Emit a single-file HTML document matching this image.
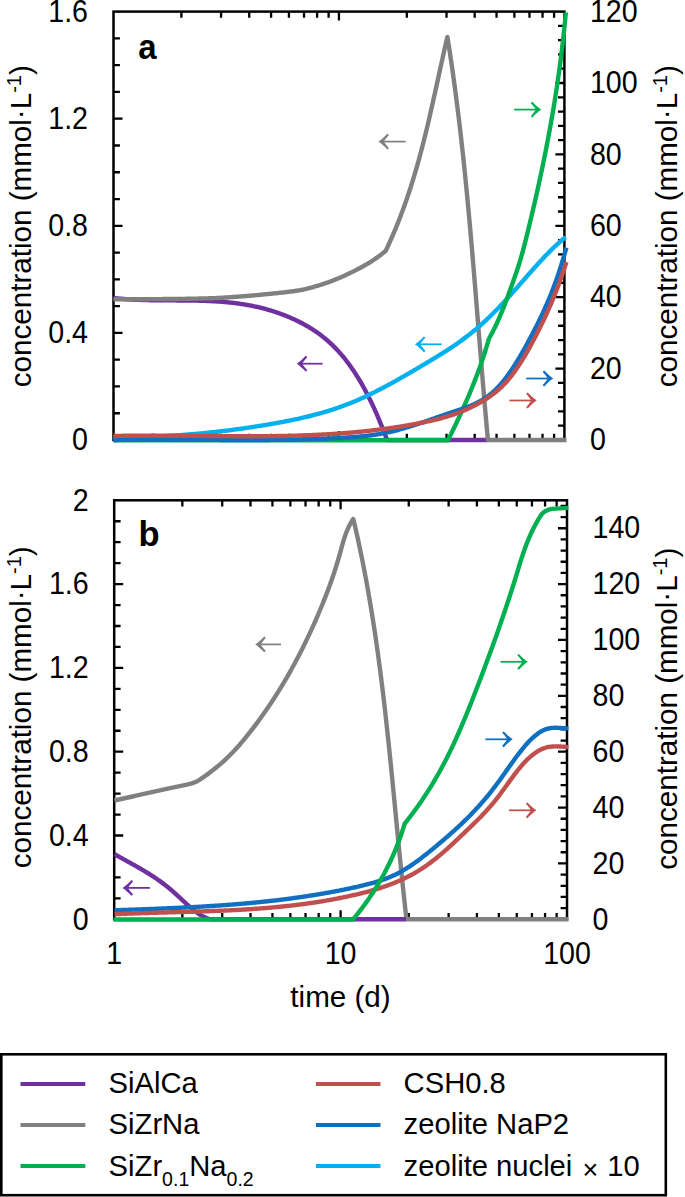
<!DOCTYPE html>
<html><head><meta charset="utf-8"><style>
html,body{margin:0;padding:0;background:#fff;overflow:hidden;}
svg{display:block;}
text{font-family:"Liberation Sans",sans-serif;fill:#000;}
</style></head><body>
<svg width="685" height="1197" viewBox="0 0 685 1197">
<rect x="113.5" y="11.6" width="450.9" height="428.4" fill="none" stroke="#000" stroke-width="2.5"/>
<path d="M181.37 440v-6.2M181.37 11.6v6.2M221.07 440v-6.2M221.07 11.6v6.2M249.23 440v-6.2M249.23 11.6v6.2M271.08 440v-6.2M271.08 11.6v6.2M288.93 440v-6.2M288.93 11.6v6.2M304.03 440v-6.2M304.03 11.6v6.2M317.1 440v-6.2M317.1 11.6v6.2M328.63 440v-6.2M328.63 11.6v6.2M338.95 440v-9.0M338.95 11.6v9.0M406.82 440v-6.2M406.82 11.6v6.2M446.52 440v-6.2M446.52 11.6v6.2M474.68 440v-6.2M474.68 11.6v6.2M496.53 440v-6.2M496.53 11.6v6.2M514.38 440v-6.2M514.38 11.6v6.2M529.48 440v-6.2M529.48 11.6v6.2M542.55 440v-6.2M542.55 11.6v6.2M554.08 440v-6.2M554.08 11.6v6.2M113.5 413.23h6.4M113.5 386.45h6.4M113.5 359.68h6.4M113.5 332.9h9.0M113.5 306.12h6.4M113.5 279.35h6.4M113.5 252.58h6.4M113.5 225.8h9.0M113.5 199.03h6.4M113.5 172.25h6.4M113.5 145.48h6.4M113.5 118.7h9.0M113.5 91.93h6.4M113.5 65.15h6.4M113.5 38.38h6.4M564.4 425.72h-6.4M564.4 411.44h-6.4M564.4 397.16h-6.4M564.4 382.88h-6.4M564.4 368.6h-9.0M564.4 354.32h-6.4M564.4 340.04h-6.4M564.4 325.76h-6.4M564.4 311.48h-6.4M564.4 297.2h-9.0M564.4 282.92h-6.4M564.4 268.64h-6.4M564.4 254.36h-6.4M564.4 240.08h-6.4M564.4 225.8h-9.0M564.4 211.52h-6.4M564.4 197.24h-6.4M564.4 182.96h-6.4M564.4 168.68h-6.4M564.4 154.4h-9.0M564.4 140.12h-6.4M564.4 125.84h-6.4M564.4 111.56h-6.4M564.4 97.28h-6.4M564.4 83h-9.0M564.4 68.72h-6.4M564.4 54.44h-6.4M564.4 40.16h-6.4M564.4 25.88h-6.4" stroke="#000" stroke-width="2.3" fill="none"/>
<rect x="114.2" y="500.3" width="452.8" height="419" fill="none" stroke="#000" stroke-width="2.5"/>
<path d="M182.35 919.3v-6.2M182.35 500.3v6.2M222.22 919.3v-6.2M222.22 500.3v6.2M250.51 919.3v-6.2M250.51 500.3v6.2M272.45 919.3v-6.2M272.45 500.3v6.2M290.37 919.3v-6.2M290.37 500.3v6.2M305.53 919.3v-6.2M305.53 500.3v6.2M318.66 919.3v-6.2M318.66 500.3v6.2M330.24 919.3v-6.2M330.24 500.3v6.2M340.6 919.3v-9.0M340.6 500.3v9.0M408.75 919.3v-6.2M408.75 500.3v6.2M448.62 919.3v-6.2M448.62 500.3v6.2M476.91 919.3v-6.2M476.91 500.3v6.2M498.85 919.3v-6.2M498.85 500.3v6.2M516.77 919.3v-6.2M516.77 500.3v6.2M531.93 919.3v-6.2M531.93 500.3v6.2M545.06 919.3v-6.2M545.06 500.3v6.2M556.64 919.3v-6.2M556.64 500.3v6.2M114.2 898.35h6.4M114.2 877.4h6.4M114.2 856.45h6.4M114.2 835.5h9.0M114.2 814.55h6.4M114.2 793.6h6.4M114.2 772.65h6.4M114.2 751.7h9.0M114.2 730.75h6.4M114.2 709.8h6.4M114.2 688.85h6.4M114.2 667.9h9.0M114.2 646.95h6.4M114.2 626h6.4M114.2 605.05h6.4M114.2 584.1h9.0M114.2 563.15h6.4M114.2 542.2h6.4M114.2 521.25h6.4M567 908.13h-6.4M567 896.95h-6.4M567 885.78h-6.4M567 874.61h-6.4M567 863.43h-9.0M567 852.26h-6.4M567 841.09h-6.4M567 829.91h-6.4M567 818.74h-6.4M567 807.57h-9.0M567 796.39h-6.4M567 785.22h-6.4M567 774.05h-6.4M567 762.87h-6.4M567 751.7h-9.0M567 740.53h-6.4M567 729.35h-6.4M567 718.18h-6.4M567 707.01h-6.4M567 695.83h-9.0M567 684.66h-6.4M567 673.49h-6.4M567 662.31h-6.4M567 651.14h-6.4M567 639.97h-9.0M567 628.79h-6.4M567 617.62h-6.4M567 606.45h-6.4M567 595.27h-6.4M567 584.1h-9.0M567 572.93h-6.4M567 561.75h-6.4M567 550.58h-6.4M567 539.41h-6.4M567 528.23h-9.0M567 517.06h-6.4M567 505.89h-6.4" stroke="#000" stroke-width="2.3" fill="none"/>
<path d="M113.50 297.99 L114.51 298.10 L115.51 298.21 L116.52 298.32 L117.52 298.42 L118.53 298.52 L119.53 298.61 L120.54 298.71 L121.54 298.80 L122.55 298.88 L123.56 298.96 L124.56 299.04 L125.57 299.12 L126.57 299.19 L127.58 299.26 L128.58 299.33 L129.59 299.39 L130.59 299.46 L131.60 299.52 L132.60 299.57 L133.61 299.63 L134.62 299.68 L135.62 299.73 L136.63 299.77 L137.63 299.82 L138.64 299.86 L139.64 299.90 L140.65 299.94 L141.65 299.97 L142.66 300.01 L143.67 300.04 L144.67 300.07 L145.68 300.10 L146.68 300.12 L147.69 300.15 L148.69 300.17 L149.70 300.19 L150.70 300.21 L151.71 300.23 L152.72 300.25 L153.72 300.27 L154.73 300.28 L155.73 300.29 L156.74 300.31 L157.74 300.32 L158.75 300.33 L159.75 300.34 L160.76 300.35 L161.76 300.36 L162.77 300.36 L163.78 300.37 L164.78 300.38 L165.79 300.38 L166.79 300.39 L167.80 300.39 L168.80 300.40 L169.81 300.40 L170.81 300.41 L171.82 300.41 L172.83 300.41 L173.83 300.42 L174.84 300.42 L175.84 300.42 L176.85 300.43 L177.85 300.43 L178.86 300.44 L179.86 300.44 L180.87 300.45 L181.88 300.45 L182.88 300.46 L183.89 300.47 L184.89 300.48 L185.90 300.48 L186.90 300.49 L187.91 300.50 L188.91 300.51 L189.92 300.53 L190.92 300.54 L191.93 300.55 L192.94 300.57 L193.94 300.59 L194.95 300.61 L195.95 300.63 L196.96 300.65 L197.96 300.67 L198.97 300.69 L199.97 300.72 L200.98 300.75 L201.99 300.78 L202.99 300.81 L204.00 300.84 L205.00 300.87 L206.01 300.91 L207.01 300.95 L208.02 300.99 L209.02 301.04 L210.03 301.08 L211.03 301.13 L212.04 301.18 L213.05 301.23 L214.05 301.29 L215.06 301.35 L216.06 301.41 L217.07 301.47 L218.07 301.54 L219.08 301.61 L220.08 301.68 L221.09 301.75 L222.10 301.83 L223.10 301.91 L224.11 302.00 L225.11 302.08 L226.12 302.17 L227.12 302.27 L228.13 302.37 L229.13 302.47 L230.14 302.57 L231.15 302.68 L232.15 302.79 L233.16 302.91 L234.16 303.03 L235.17 303.15 L236.17 303.28 L237.18 303.41 L238.18 303.54 L239.19 303.68 L240.19 303.83 L241.20 303.98 L242.21 304.13 L243.21 304.28 L244.22 304.45 L245.22 304.61 L246.23 304.78 L247.23 304.96 L248.24 305.14 L249.24 305.32 L250.25 305.51 L251.26 305.70 L252.26 305.90 L253.27 306.11 L254.27 306.31 L255.28 306.53 L256.28 306.75 L257.29 306.97 L258.29 307.20 L259.30 307.44 L260.31 307.68 L261.31 307.93 L262.32 308.18 L263.32 308.43 L264.33 308.70 L265.33 308.97 L266.34 309.24 L267.34 309.52 L268.35 309.81 L269.35 310.10 L270.36 310.40 L271.37 310.71 L272.37 311.02 L273.38 311.34 L274.38 311.66 L275.39 311.99 L276.39 312.33 L277.40 312.67 L278.40 313.02 L279.41 313.38 L280.42 313.74 L281.42 314.11 L282.43 314.49 L283.43 314.87 L284.44 315.26 L285.44 315.66 L286.45 316.07 L287.45 316.48 L288.46 316.90 L289.47 317.32 L290.47 317.76 L291.48 318.20 L292.48 318.65 L293.49 319.11 L294.49 319.57 L295.50 320.04 L296.50 320.52 L297.51 321.01 L298.51 321.51 L299.52 322.01 L300.53 322.52 L301.53 323.04 L302.54 323.57 L303.54 324.11 L304.55 324.65 L305.55 325.21 L306.56 325.78 L307.56 326.35 L308.57 326.94 L309.58 327.54 L310.58 328.15 L311.59 328.78 L312.59 329.41 L313.60 330.06 L314.60 330.73 L315.61 331.40 L316.61 332.09 L317.62 332.80 L318.62 333.52 L319.63 334.25 L320.64 335.00 L321.64 335.77 L322.65 336.55 L323.65 337.35 L324.66 338.17 L325.66 339.00 L326.67 339.85 L327.67 340.72 L328.68 341.61 L329.69 342.52 L330.69 343.45 L331.70 344.40 L332.70 345.37 L333.71 346.36 L334.71 347.37 L335.72 348.40 L336.72 349.45 L337.73 350.53 L338.74 351.63 L339.74 352.75 L340.75 353.89 L341.75 355.06 L342.76 356.26 L343.76 357.48 L344.77 358.72 L345.77 359.99 L346.78 361.29 L347.78 362.61 L348.79 363.96 L349.80 365.34 L350.80 366.75 L351.81 368.18 L352.81 369.65 L353.82 371.14 L354.82 372.67 L355.83 374.22 L356.83 375.81 L357.84 377.42 L358.85 379.07 L359.85 380.75 L360.86 382.46 L361.86 384.21 L362.87 385.99 L363.87 387.81 L364.88 389.65 L365.88 391.54 L366.89 393.46 L367.90 395.41 L368.90 397.40 L369.91 399.43 L370.91 401.50 L371.92 403.60 L372.92 405.74 L373.93 407.92 L374.93 410.14 L375.94 412.40 L376.94 414.69 L377.95 417.03 L378.96 419.41 L379.96 421.83 L380.97 424.30 L381.97 426.80 L382.98 429.35 L383.98 431.94 L384.99 434.57 L385.99 437.25 L387.00 439.97 L387.00 440.00 L488.00 440.00" stroke="#7030a0" stroke-width="4.4" fill="none" stroke-linejoin="round" stroke-linecap="butt"/>
<path d="M113.50 299.30 L114.50 299.30 L115.51 299.30 L116.51 299.30 L117.52 299.30 L118.52 299.30 L119.52 299.30 L120.53 299.29 L121.53 299.29 L122.54 299.29 L123.54 299.29 L124.54 299.29 L125.55 299.28 L126.55 299.28 L127.56 299.28 L128.56 299.27 L129.56 299.27 L130.57 299.27 L131.57 299.26 L132.58 299.26 L133.58 299.26 L134.59 299.25 L135.59 299.25 L136.59 299.24 L137.60 299.24 L138.60 299.23 L139.61 299.23 L140.61 299.22 L141.61 299.22 L142.62 299.21 L143.62 299.20 L144.63 299.20 L145.63 299.19 L146.63 299.19 L147.64 299.18 L148.64 299.17 L149.65 299.17 L150.65 299.16 L151.65 299.15 L152.66 299.15 L153.66 299.14 L154.67 299.13 L155.67 299.12 L156.67 299.12 L157.68 299.11 L158.68 299.10 L159.69 299.09 L160.69 299.09 L161.69 299.08 L162.70 299.07 L163.70 299.06 L164.71 299.05 L165.71 299.05 L166.72 299.04 L167.72 299.03 L168.72 299.02 L169.73 299.01 L170.73 299.00 L171.74 299.00 L172.74 298.99 L173.74 298.98 L174.75 298.97 L175.75 298.96 L176.76 298.95 L177.76 298.93 L178.76 298.92 L179.77 298.91 L180.77 298.90 L181.78 298.88 L182.78 298.87 L183.78 298.85 L184.79 298.84 L185.79 298.82 L186.80 298.80 L187.80 298.79 L188.80 298.77 L189.81 298.75 L190.81 298.73 L191.82 298.71 L192.82 298.69 L193.82 298.67 L194.83 298.65 L195.83 298.63 L196.84 298.61 L197.84 298.58 L198.85 298.56 L199.85 298.54 L200.85 298.51 L201.86 298.49 L202.86 298.46 L203.87 298.44 L204.87 298.41 L205.87 298.38 L206.88 298.36 L207.88 298.33 L208.89 298.30 L209.89 298.27 L210.89 298.24 L211.90 298.21 L212.90 298.18 L213.91 298.14 L214.91 298.10 L215.91 298.06 L216.92 298.02 L217.92 297.97 L218.93 297.92 L219.93 297.87 L220.93 297.81 L221.94 297.75 L222.94 297.70 L223.95 297.63 L224.95 297.57 L225.95 297.50 L226.96 297.44 L227.96 297.37 L228.97 297.30 L229.97 297.23 L230.97 297.16 L231.98 297.09 L232.98 297.01 L233.99 296.94 L234.99 296.87 L236.00 296.79 L237.00 296.72 L238.00 296.65 L239.01 296.57 L240.01 296.50 L241.02 296.43 L242.02 296.35 L243.02 296.27 L244.03 296.20 L245.03 296.12 L246.04 296.04 L247.04 295.96 L248.04 295.88 L249.05 295.79 L250.05 295.71 L251.06 295.62 L252.06 295.53 L253.06 295.45 L254.07 295.36 L255.07 295.27 L256.08 295.17 L257.08 295.08 L258.08 294.99 L259.09 294.90 L260.09 294.80 L261.10 294.70 L262.10 294.61 L263.10 294.51 L264.11 294.41 L265.11 294.31 L266.12 294.21 L267.12 294.11 L268.13 294.01 L269.13 293.91 L270.13 293.80 L271.14 293.70 L272.14 293.60 L273.15 293.50 L274.15 293.40 L275.15 293.30 L276.16 293.20 L277.16 293.10 L278.17 292.99 L279.17 292.89 L280.17 292.78 L281.18 292.68 L282.18 292.57 L283.19 292.46 L284.19 292.35 L285.19 292.24 L286.20 292.12 L287.20 292.00 L288.21 291.88 L289.21 291.76 L290.21 291.63 L291.22 291.50 L292.22 291.37 L293.23 291.23 L294.23 291.09 L295.23 290.95 L296.24 290.80 L297.24 290.64 L298.25 290.49 L299.25 290.32 L300.25 290.16 L301.26 289.98 L302.26 289.78 L303.27 289.58 L304.27 289.36 L305.28 289.13 L306.28 288.90 L307.28 288.65 L308.29 288.39 L309.29 288.13 L310.30 287.86 L311.30 287.58 L312.30 287.30 L313.31 287.02 L314.31 286.73 L315.32 286.44 L316.32 286.14 L317.32 285.85 L318.33 285.56 L319.33 285.25 L320.34 284.94 L321.34 284.62 L322.34 284.30 L323.35 283.96 L324.35 283.63 L325.36 283.28 L326.36 282.93 L327.36 282.57 L328.37 282.21 L329.37 281.84 L330.38 281.47 L331.38 281.09 L332.38 280.71 L333.39 280.33 L334.39 279.94 L335.40 279.54 L336.40 279.14 L337.41 278.73 L338.41 278.32 L339.41 277.90 L340.42 277.47 L341.42 277.03 L342.43 276.59 L343.43 276.14 L344.43 275.69 L345.44 275.23 L346.44 274.76 L347.45 274.29 L348.45 273.81 L349.45 273.33 L350.46 272.85 L351.46 272.36 L352.47 271.87 L353.47 271.37 L354.47 270.87 L355.48 270.36 L356.48 269.85 L357.49 269.33 L358.49 268.81 L359.49 268.28 L360.50 267.75 L361.50 267.20 L362.51 266.65 L363.51 266.10 L364.51 265.53 L365.52 264.95 L366.52 264.37 L367.53 263.77 L368.53 263.17 L369.54 262.55 L370.54 261.92 L371.54 261.28 L372.55 260.63 L373.55 259.96 L374.56 259.28 L375.56 258.58 L376.56 257.87 L377.57 257.15 L378.57 256.42 L379.58 255.68 L380.58 254.92 L381.58 254.16 L382.59 253.38 L383.59 252.60 L384.60 251.80 L385.60 251.00 L385.62 251.00 L386.10 250.00 L386.58 248.99 L387.05 247.99 L387.52 246.98 L387.98 245.98 L388.44 244.97 L388.90 243.97 L389.36 242.96 L389.82 241.96 L390.27 240.95 L390.71 239.95 L391.16 238.94 L391.60 237.94 L392.04 236.93 L392.48 235.93 L392.91 234.92 L393.35 233.92 L393.77 232.92 L394.20 231.91 L394.62 230.91 L395.04 229.90 L395.46 228.90 L395.88 227.89 L396.29 226.89 L396.70 225.88 L397.11 224.88 L397.51 223.87 L397.91 222.87 L398.31 221.86 L398.71 220.86 L399.11 219.85 L399.50 218.85 L399.89 217.85 L400.28 216.84 L400.66 215.84 L401.04 214.83 L401.42 213.83 L401.80 212.82 L402.18 211.82 L402.55 210.81 L402.92 209.81 L403.29 208.80 L403.66 207.80 L404.02 206.79 L404.38 205.79 L404.74 204.78 L405.10 203.78 L405.45 202.77 L405.81 201.77 L406.16 200.77 L406.50 199.76 L406.85 198.76 L407.19 197.75 L407.54 196.75 L407.88 195.74 L408.21 194.74 L408.55 193.73 L408.88 192.73 L409.22 191.72 L409.55 190.72 L409.87 189.71 L410.20 188.71 L410.52 187.70 L410.85 186.70 L411.17 185.69 L411.48 184.69 L411.80 183.69 L412.12 182.68 L412.43 181.68 L412.74 180.67 L413.05 179.67 L413.36 178.66 L413.66 177.66 L413.97 176.65 L414.27 175.65 L414.57 174.64 L414.87 173.64 L415.16 172.63 L415.46 171.63 L415.75 170.62 L416.05 169.62 L416.34 168.62 L416.63 167.61 L416.91 166.61 L417.20 165.60 L417.48 164.60 L417.77 163.59 L418.05 162.59 L418.33 161.58 L418.61 160.58 L418.88 159.57 L419.16 158.57 L419.43 157.56 L419.71 156.56 L419.98 155.55 L420.25 154.55 L420.52 153.54 L420.78 152.54 L421.05 151.54 L421.31 150.53 L421.58 149.53 L421.84 148.52 L422.10 147.52 L422.36 146.51 L422.62 145.51 L422.88 144.50 L423.13 143.50 L423.39 142.49 L423.64 141.49 L423.90 140.48 L424.15 139.48 L424.40 138.47 L424.65 137.47 L424.90 136.46 L425.15 135.46 L425.39 134.46 L425.64 133.45 L425.88 132.45 L426.13 131.44 L426.37 130.44 L426.61 129.43 L426.85 128.43 L427.09 127.42 L427.33 126.42 L427.57 125.41 L427.81 124.41 L428.05 123.40 L428.28 122.40 L428.52 121.39 L428.75 120.39 L428.99 119.38 L429.22 118.38 L429.45 117.38 L429.69 116.37 L429.92 115.37 L430.15 114.36 L430.38 113.36 L430.61 112.35 L430.84 111.35 L431.06 110.34 L431.29 109.34 L431.52 108.33 L431.74 107.33 L431.97 106.32 L432.20 105.32 L432.42 104.31 L432.65 103.31 L432.87 102.31 L433.09 101.30 L433.32 100.30 L433.54 99.29 L433.76 98.29 L433.99 97.28 L434.21 96.28 L434.43 95.27 L434.65 94.27 L434.87 93.26 L435.09 92.26 L435.32 91.25 L435.54 90.25 L435.76 89.24 L435.98 88.24 L436.20 87.23 L436.42 86.23 L436.64 85.23 L436.86 84.22 L437.08 83.22 L437.29 82.21 L437.51 81.21 L437.73 80.20 L437.95 79.20 L438.17 78.19 L438.39 77.19 L438.61 76.18 L438.83 75.18 L439.05 74.17 L439.27 73.17 L439.49 72.16 L439.71 71.16 L439.93 70.15 L440.15 69.15 L440.37 68.15 L440.59 67.14 L440.81 66.14 L441.03 65.13 L441.25 64.13 L441.47 63.12 L441.70 62.12 L441.92 61.11 L442.14 60.11 L442.36 59.10 L442.59 58.10 L442.81 57.09 L443.03 56.09 L443.26 55.08 L443.48 54.08 L443.71 53.08 L443.93 52.07 L444.16 51.07 L444.39 50.06 L444.61 49.06 L444.84 48.05 L445.07 47.05 L445.30 46.04 L445.53 45.04 L445.76 44.03 L445.99 43.03 L446.22 42.02 L446.45 41.02 L446.68 40.01 L446.92 39.01 L447.15 38.00 L447.38 37.00 L447.43 37.00 L447.59 38.00 L447.75 39.00 L447.91 40.01 L448.07 41.01 L448.23 42.01 L448.39 43.01 L448.54 44.02 L448.70 45.02 L448.85 46.02 L449.01 47.02 L449.16 48.03 L449.32 49.03 L449.47 50.03 L449.63 51.03 L449.78 52.04 L449.93 53.04 L450.08 54.04 L450.23 55.04 L450.38 56.05 L450.53 57.05 L450.68 58.05 L450.83 59.05 L450.98 60.06 L451.13 61.06 L451.28 62.06 L451.42 63.06 L451.57 64.07 L451.72 65.07 L451.86 66.07 L452.01 67.07 L452.15 68.08 L452.29 69.08 L452.44 70.08 L452.58 71.08 L452.72 72.09 L452.86 73.09 L453.01 74.09 L453.15 75.09 L453.29 76.10 L453.43 77.10 L453.57 78.10 L453.71 79.10 L453.84 80.11 L453.98 81.11 L454.12 82.11 L454.26 83.11 L454.39 84.12 L454.53 85.12 L454.67 86.12 L454.80 87.12 L454.94 88.13 L455.07 89.13 L455.20 90.13 L455.34 91.13 L455.47 92.14 L455.60 93.14 L455.74 94.14 L455.87 95.14 L456.00 96.15 L456.13 97.15 L456.26 98.15 L456.39 99.15 L456.52 100.16 L456.65 101.16 L456.78 102.16 L456.90 103.16 L457.03 104.17 L457.16 105.17 L457.29 106.17 L457.41 107.17 L457.54 108.18 L457.66 109.18 L457.79 110.18 L457.91 111.18 L458.04 112.19 L458.16 113.19 L458.28 114.19 L458.41 115.19 L458.53 116.20 L458.65 117.20 L458.77 118.20 L458.90 119.20 L459.02 120.21 L459.14 121.21 L459.26 122.21 L459.38 123.21 L459.50 124.22 L459.62 125.22 L459.74 126.22 L459.85 127.22 L459.97 128.23 L460.09 129.23 L460.21 130.23 L460.32 131.23 L460.44 132.24 L460.56 133.24 L460.67 134.24 L460.79 135.24 L460.90 136.25 L461.02 137.25 L461.13 138.25 L461.24 139.25 L461.36 140.26 L461.47 141.26 L461.58 142.26 L461.70 143.26 L461.81 144.27 L461.92 145.27 L462.03 146.27 L462.14 147.27 L462.25 148.28 L462.36 149.28 L462.47 150.28 L462.58 151.28 L462.69 152.29 L462.80 153.29 L462.91 154.29 L463.02 155.29 L463.13 156.30 L463.23 157.30 L463.34 158.30 L463.45 159.30 L463.55 160.31 L463.66 161.31 L463.77 162.31 L463.87 163.31 L463.98 164.32 L464.08 165.32 L464.19 166.32 L464.29 167.32 L464.40 168.33 L464.50 169.33 L464.60 170.33 L464.71 171.33 L464.81 172.34 L464.91 173.34 L465.01 174.34 L465.12 175.34 L465.22 176.35 L465.32 177.35 L465.42 178.35 L465.52 179.35 L465.62 180.36 L465.72 181.36 L465.82 182.36 L465.92 183.36 L466.02 184.37 L466.12 185.37 L466.22 186.37 L466.32 187.37 L466.42 188.38 L466.52 189.38 L466.61 190.38 L466.71 191.38 L466.81 192.39 L466.91 193.39 L467.00 194.39 L467.10 195.39 L467.20 196.40 L467.29 197.40 L467.39 198.40 L467.48 199.40 L467.58 200.41 L467.67 201.41 L467.77 202.41 L467.86 203.41 L467.96 204.42 L468.05 205.42 L468.15 206.42 L468.24 207.42 L468.33 208.43 L468.43 209.43 L468.52 210.43 L468.61 211.43 L468.71 212.44 L468.80 213.44 L468.89 214.44 L468.98 215.44 L469.07 216.45 L469.17 217.45 L469.26 218.45 L469.35 219.45 L469.44 220.46 L469.53 221.46 L469.62 222.46 L469.71 223.46 L469.80 224.47 L469.89 225.47 L469.98 226.47 L470.07 227.47 L470.16 228.48 L470.25 229.48 L470.34 230.48 L470.43 231.48 L470.52 232.49 L470.61 233.49 L470.69 234.49 L470.78 235.49 L470.87 236.50 L470.96 237.50 L471.05 238.50 L471.13 239.50 L471.22 240.50 L471.31 241.51 L471.39 242.51 L471.48 243.51 L471.57 244.51 L471.65 245.52 L471.74 246.52 L471.83 247.52 L471.91 248.52 L472.00 249.53 L472.08 250.53 L472.17 251.53 L472.26 252.53 L472.34 253.54 L472.43 254.54 L472.51 255.54 L472.60 256.54 L472.68 257.55 L472.77 258.55 L472.85 259.55 L472.93 260.55 L473.02 261.56 L473.10 262.56 L473.19 263.56 L473.27 264.56 L473.36 265.57 L473.44 266.57 L473.52 267.57 L473.61 268.57 L473.69 269.58 L473.77 270.58 L473.86 271.58 L473.94 272.58 L474.02 273.59 L474.11 274.59 L474.19 275.59 L474.27 276.59 L474.35 277.60 L474.44 278.60 L474.52 279.60 L474.60 280.60 L474.68 281.61 L474.76 282.61 L474.85 283.61 L474.93 284.61 L475.01 285.62 L475.09 286.62 L475.17 287.62 L475.26 288.62 L475.34 289.63 L475.42 290.63 L475.50 291.63 L475.58 292.63 L475.66 293.64 L475.75 294.64 L475.83 295.64 L475.91 296.64 L475.99 297.65 L476.07 298.65 L476.15 299.65 L476.23 300.65 L476.31 301.66 L476.39 302.66 L476.48 303.66 L476.56 304.66 L476.64 305.67 L476.72 306.67 L476.80 307.67 L476.88 308.67 L476.96 309.68 L477.04 310.68 L477.12 311.68 L477.20 312.68 L477.28 313.69 L477.36 314.69 L477.44 315.69 L477.52 316.69 L477.60 317.70 L477.69 318.70 L477.77 319.70 L477.85 320.70 L477.93 321.71 L478.01 322.71 L478.09 323.71 L478.17 324.71 L478.25 325.72 L478.33 326.72 L478.41 327.72 L478.49 328.72 L478.57 329.73 L478.65 330.73 L478.73 331.73 L478.81 332.73 L478.89 333.74 L478.97 334.74 L479.05 335.74 L479.13 336.74 L479.22 337.75 L479.30 338.75 L479.38 339.75 L479.46 340.75 L479.54 341.76 L479.62 342.76 L479.70 343.76 L479.78 344.76 L479.86 345.77 L479.94 346.77 L480.02 347.77 L480.11 348.77 L480.19 349.78 L480.27 350.78 L480.35 351.78 L480.43 352.78 L480.51 353.79 L480.59 354.79 L480.67 355.79 L480.76 356.79 L480.84 357.80 L480.92 358.80 L481.00 359.80 L481.08 360.80 L481.16 361.81 L481.25 362.81 L481.33 363.81 L481.41 364.81 L481.49 365.82 L481.57 366.82 L481.66 367.82 L481.74 368.82 L481.82 369.83 L481.90 370.83 L481.99 371.83 L482.07 372.83 L482.15 373.84 L482.24 374.84 L482.32 375.84 L482.40 376.84 L482.49 377.85 L482.57 378.85 L482.65 379.85 L482.74 380.85 L482.82 381.86 L482.90 382.86 L482.99 383.86 L483.07 384.86 L483.16 385.87 L483.24 386.87 L483.32 387.87 L483.41 388.87 L483.49 389.88 L483.58 390.88 L483.66 391.88 L483.75 392.88 L483.83 393.89 L483.92 394.89 L484.01 395.89 L484.09 396.89 L484.18 397.90 L484.26 398.90 L484.35 399.90 L484.43 400.90 L484.52 401.91 L484.61 402.91 L484.69 403.91 L484.78 404.91 L484.87 405.92 L484.96 406.92 L485.04 407.92 L485.13 408.92 L485.22 409.93 L485.31 410.93 L485.39 411.93 L485.48 412.93 L485.57 413.94 L485.66 414.94 L485.75 415.94 L485.84 416.94 L485.93 417.95 L486.01 418.95 L486.10 419.95 L486.19 420.95 L486.28 421.96 L486.37 422.96 L486.46 423.96 L486.55 424.96 L486.64 425.97 L486.74 426.97 L486.83 427.97 L486.92 428.97 L487.01 429.98 L487.10 430.98 L487.19 431.98 L487.28 432.98 L487.38 433.99 L487.47 434.99 L487.56 435.99 L487.65 436.99 L487.75 438.00 L487.84 439.00 L487.93 440.00 L488.00 440.00 L566.50 440.00" stroke="#808080" stroke-width="4.4" fill="none" stroke-linejoin="round" stroke-linecap="butt"/>
<path d="M113.50 437.50 L114.50 437.50 L115.50 437.50 L116.51 437.49 L117.51 437.49 L118.51 437.49 L119.51 437.48 L120.52 437.48 L121.52 437.47 L122.52 437.46 L123.52 437.45 L124.53 437.44 L125.53 437.43 L126.53 437.41 L127.53 437.40 L128.54 437.38 L129.54 437.37 L130.54 437.35 L131.54 437.33 L132.55 437.31 L133.55 437.29 L134.55 437.27 L135.55 437.25 L136.56 437.22 L137.56 437.20 L138.56 437.17 L139.56 437.15 L140.57 437.12 L141.57 437.09 L142.57 437.06 L143.57 437.03 L144.58 436.99 L145.58 436.96 L146.58 436.92 L147.58 436.89 L148.59 436.85 L149.59 436.81 L150.59 436.77 L151.59 436.73 L152.60 436.69 L153.60 436.65 L154.60 436.61 L155.60 436.56 L156.60 436.52 L157.61 436.47 L158.61 436.42 L159.61 436.37 L160.61 436.32 L161.62 436.27 L162.62 436.22 L163.62 436.17 L164.62 436.11 L165.63 436.06 L166.63 436.00 L167.63 435.94 L168.63 435.88 L169.64 435.82 L170.64 435.76 L171.64 435.70 L172.64 435.64 L173.65 435.57 L174.65 435.51 L175.65 435.44 L176.65 435.37 L177.66 435.30 L178.66 435.23 L179.66 435.16 L180.66 435.09 L181.67 435.02 L182.67 434.94 L183.67 434.87 L184.67 434.79 L185.68 434.71 L186.68 434.63 L187.68 434.55 L188.68 434.47 L189.69 434.39 L190.69 434.31 L191.69 434.22 L192.69 434.14 L193.70 434.05 L194.70 433.96 L195.70 433.88 L196.70 433.79 L197.70 433.69 L198.71 433.60 L199.71 433.51 L200.71 433.42 L201.71 433.32 L202.72 433.22 L203.72 433.13 L204.72 433.03 L205.72 432.93 L206.73 432.83 L207.73 432.72 L208.73 432.62 L209.73 432.52 L210.74 432.41 L211.74 432.30 L212.74 432.20 L213.74 432.09 L214.75 431.98 L215.75 431.87 L216.75 431.76 L217.75 431.64 L218.76 431.53 L219.76 431.41 L220.76 431.30 L221.76 431.18 L222.77 431.06 L223.77 430.94 L224.77 430.82 L225.77 430.70 L226.78 430.57 L227.78 430.45 L228.78 430.32 L229.78 430.20 L230.79 430.07 L231.79 429.94 L232.79 429.81 L233.79 429.68 L234.80 429.55 L235.80 429.41 L236.80 429.28 L237.80 429.14 L238.80 429.01 L239.81 428.87 L240.81 428.73 L241.81 428.59 L242.81 428.45 L243.82 428.31 L244.82 428.16 L245.82 428.02 L246.82 427.87 L247.83 427.72 L248.83 427.58 L249.83 427.43 L250.83 427.28 L251.84 427.13 L252.84 426.97 L253.84 426.82 L254.84 426.66 L255.85 426.51 L256.85 426.35 L257.85 426.19 L258.85 426.03 L259.86 425.87 L260.86 425.71 L261.86 425.55 L262.86 425.38 L263.87 425.22 L264.87 425.05 L265.87 424.89 L266.87 424.72 L267.88 424.55 L268.88 424.38 L269.88 424.21 L270.88 424.03 L271.89 423.86 L272.89 423.68 L273.89 423.51 L274.89 423.33 L275.90 423.15 L276.90 422.97 L277.90 422.79 L278.90 422.61 L279.90 422.42 L280.91 422.24 L281.91 422.05 L282.91 421.86 L283.91 421.67 L284.92 421.48 L285.92 421.28 L286.92 421.09 L287.92 420.89 L288.93 420.69 L289.93 420.49 L290.93 420.29 L291.93 420.08 L292.94 419.88 L293.94 419.67 L294.94 419.46 L295.94 419.24 L296.95 419.03 L297.95 418.81 L298.95 418.59 L299.95 418.37 L300.96 418.14 L301.96 417.91 L302.96 417.68 L303.96 417.45 L304.97 417.22 L305.97 416.98 L306.97 416.74 L307.97 416.50 L308.98 416.25 L309.98 416.00 L310.98 415.75 L311.98 415.50 L312.99 415.24 L313.99 414.98 L314.99 414.72 L315.99 414.45 L317.00 414.18 L318.00 413.91 L319.00 413.63 L320.00 413.35 L321.00 413.07 L322.01 412.79 L323.01 412.50 L324.01 412.20 L325.01 411.91 L326.02 411.61 L327.02 411.31 L328.02 411.00 L329.02 410.69 L330.03 410.37 L331.03 410.06 L332.03 409.73 L333.03 409.41 L334.04 409.08 L335.04 408.75 L336.04 408.41 L337.04 408.07 L338.05 407.72 L339.05 407.37 L340.05 407.02 L341.05 406.66 L342.06 406.30 L343.06 405.93 L344.06 405.56 L345.06 405.18 L346.07 404.80 L347.07 404.42 L348.07 404.03 L349.07 403.64 L350.08 403.24 L351.08 402.83 L352.08 402.43 L353.08 402.01 L354.09 401.60 L355.09 401.17 L356.09 400.75 L357.09 400.32 L358.10 399.88 L359.10 399.44 L360.10 399.00 L361.10 398.55 L362.10 398.10 L363.11 397.64 L364.11 397.18 L365.11 396.71 L366.11 396.24 L367.12 395.77 L368.12 395.29 L369.12 394.81 L370.12 394.33 L371.13 393.84 L372.13 393.35 L373.13 392.85 L374.13 392.35 L375.14 391.85 L376.14 391.34 L377.14 390.83 L378.14 390.32 L379.15 389.80 L380.15 389.29 L381.15 388.76 L382.15 388.24 L383.16 387.71 L384.16 387.18 L385.16 386.65 L386.16 386.11 L387.17 385.57 L388.17 385.03 L389.17 384.48 L390.17 383.94 L391.18 383.39 L392.18 382.84 L393.18 382.28 L394.18 381.73 L395.19 381.17 L396.19 380.61 L397.19 380.04 L398.19 379.48 L399.20 378.91 L400.20 378.34 L401.20 377.77 L402.20 377.20 L403.20 376.63 L404.21 376.05 L405.21 375.47 L406.21 374.89 L407.21 374.31 L408.22 373.73 L409.22 373.15 L410.22 372.56 L411.22 371.98 L412.23 371.39 L413.23 370.80 L414.23 370.21 L415.23 369.62 L416.24 369.03 L417.24 368.44 L418.24 367.85 L419.24 367.26 L420.25 366.66 L421.25 366.07 L422.25 365.47 L423.25 364.88 L424.26 364.28 L425.26 363.68 L426.26 363.09 L427.26 362.49 L428.27 361.89 L429.27 361.29 L430.27 360.69 L431.27 360.09 L432.28 359.49 L433.28 358.89 L434.28 358.28 L435.28 357.68 L436.29 357.07 L437.29 356.45 L438.29 355.84 L439.29 355.22 L440.30 354.60 L441.30 353.98 L442.30 353.36 L443.30 352.73 L444.30 352.09 L445.31 351.46 L446.31 350.82 L447.31 350.17 L448.31 349.52 L449.32 348.87 L450.32 348.21 L451.32 347.55 L452.32 346.88 L453.33 346.20 L454.33 345.52 L455.33 344.84 L456.33 344.15 L457.34 343.45 L458.34 342.75 L459.34 342.04 L460.34 341.32 L461.35 340.60 L462.35 339.87 L463.35 339.13 L464.35 338.38 L465.36 337.63 L466.36 336.87 L467.36 336.10 L468.36 335.33 L469.37 334.54 L470.37 333.75 L471.37 332.95 L472.37 332.14 L473.38 331.32 L474.38 330.49 L475.38 329.66 L476.38 328.81 L477.39 327.96 L478.39 327.09 L479.39 326.22 L480.39 325.33 L481.40 324.44 L482.40 323.54 L483.40 322.63 L484.40 321.71 L485.40 320.78 L486.41 319.84 L487.41 318.89 L488.41 317.94 L489.41 316.98 L490.42 316.01 L491.42 315.03 L492.42 314.04 L493.42 313.04 L494.43 312.04 L495.43 311.03 L496.43 310.01 L497.43 308.98 L498.44 307.95 L499.44 306.91 L500.44 305.86 L501.44 304.80 L502.45 303.74 L503.45 302.67 L504.45 301.59 L505.45 300.50 L506.46 299.41 L507.46 298.31 L508.46 297.21 L509.46 296.10 L510.47 294.99 L511.47 293.87 L512.47 292.75 L513.47 291.62 L514.48 290.49 L515.48 289.36 L516.48 288.22 L517.48 287.08 L518.49 285.94 L519.49 284.80 L520.49 283.65 L521.49 282.51 L522.50 281.36 L523.50 280.22 L524.50 279.07 L525.50 277.93 L526.50 276.79 L527.51 275.65 L528.51 274.51 L529.51 273.37 L530.51 272.23 L531.52 271.10 L532.52 269.97 L533.52 268.85 L534.52 267.73 L535.53 266.61 L536.53 265.50 L537.53 264.39 L538.53 263.29 L539.54 262.19 L540.54 261.11 L541.54 260.02 L542.54 258.95 L543.55 257.88 L544.55 256.82 L545.55 255.77 L546.55 254.73 L547.56 253.69 L548.56 252.67 L549.56 251.66 L550.56 250.65 L551.57 249.66 L552.57 248.68 L553.57 247.70 L554.57 246.74 L555.58 245.80 L556.58 244.86 L557.58 243.94 L558.58 243.03 L559.59 242.14 L560.59 241.25 L561.59 240.39 L562.59 239.54 L563.60 238.70 L564.60 237.88 L565.60 237.07" stroke="#05b0ee" stroke-width="4.4" fill="none" stroke-linejoin="round" stroke-linecap="butt"/>
<path d="M113.50 440.20 L448.00 440.20 L448.50 439.19 L449.00 438.17 L449.51 437.16 L450.01 436.14 L450.51 435.13 L451.01 434.12 L451.51 433.10 L452.01 432.09 L452.50 431.07 L453.00 430.06 L453.49 429.05 L453.98 428.03 L454.47 427.02 L454.96 426.00 L455.44 424.99 L455.93 423.98 L456.41 422.96 L456.89 421.95 L457.37 420.93 L457.84 419.92 L458.32 418.91 L458.79 417.89 L459.27 416.88 L459.74 415.86 L460.20 414.85 L460.67 413.84 L461.14 412.82 L461.60 411.81 L462.06 410.79 L462.52 409.78 L462.97 408.77 L463.43 407.75 L463.88 406.74 L464.33 405.72 L464.78 404.71 L465.23 403.70 L465.68 402.68 L466.12 401.67 L466.56 400.65 L467.00 399.64 L467.44 398.63 L467.87 397.61 L468.30 396.60 L468.73 395.58 L469.16 394.57 L469.59 393.56 L470.01 392.54 L470.43 391.53 L470.85 390.51 L471.27 389.50 L471.69 388.49 L472.10 387.47 L472.51 386.46 L472.92 385.44 L473.32 384.43 L473.73 383.42 L474.13 382.40 L474.53 381.39 L474.92 380.37 L475.32 379.36 L475.71 378.35 L476.10 377.33 L476.48 376.32 L476.87 375.30 L477.25 374.29 L477.63 373.28 L478.00 372.26 L478.38 371.25 L478.75 370.23 L479.11 369.22 L479.48 368.21 L479.84 367.19 L480.20 366.18 L480.56 365.16 L480.92 364.15 L481.27 363.14 L481.62 362.12 L481.97 361.11 L482.31 360.09 L482.65 359.08 L482.99 358.07 L483.33 357.05 L483.66 356.04 L483.99 355.02 L484.32 354.01 L484.64 353.00 L484.96 351.98 L485.28 350.97 L485.60 349.95 L485.91 348.94 L486.22 347.93 L486.53 346.91 L486.83 345.90 L487.13 344.88 L487.43 343.87 L487.72 342.86 L488.02 341.84 L488.30 340.83 L488.59 339.81 L488.87 338.80 L488.90 338.80 L489.46 337.80 L490.02 336.79 L490.56 335.79 L491.11 334.78 L491.64 333.78 L492.17 332.77 L492.69 331.77 L493.20 330.77 L493.71 329.76 L494.21 328.76 L494.70 327.75 L495.19 326.75 L495.67 325.74 L496.15 324.74 L496.62 323.74 L497.09 322.73 L497.55 321.73 L498.00 320.72 L498.45 319.72 L498.90 318.71 L499.34 317.71 L499.77 316.71 L500.20 315.70 L500.63 314.70 L501.06 313.69 L501.47 312.69 L501.89 311.68 L502.30 310.68 L502.71 309.68 L503.11 308.67 L503.52 307.67 L503.91 306.66 L504.31 305.66 L504.70 304.65 L505.09 303.65 L505.48 302.64 L505.86 301.64 L506.24 300.64 L506.62 299.63 L507.00 298.63 L507.38 297.62 L507.75 296.62 L508.12 295.61 L508.49 294.61 L508.85 293.61 L509.22 292.60 L509.58 291.60 L509.94 290.59 L510.31 289.59 L510.66 288.58 L511.02 287.58 L511.38 286.58 L511.74 285.57 L512.09 284.57 L512.44 283.56 L512.80 282.56 L513.15 281.55 L513.50 280.55 L513.85 279.55 L514.21 278.54 L514.56 277.54 L514.91 276.53 L515.26 275.53 L515.60 274.52 L515.95 273.52 L516.29 272.52 L516.63 271.51 L516.97 270.51 L517.31 269.50 L517.64 268.50 L517.97 267.49 L518.30 266.49 L518.62 265.49 L518.94 264.48 L519.26 263.48 L519.57 262.47 L519.87 261.47 L520.18 260.46 L520.48 259.46 L520.77 258.46 L521.06 257.45 L521.35 256.45 L521.64 255.44 L521.92 254.44 L522.20 253.43 L522.48 252.43 L522.75 251.43 L523.02 250.42 L523.29 249.42 L523.56 248.41 L523.83 247.41 L524.09 246.40 L524.35 245.40 L524.61 244.40 L524.86 243.39 L525.12 242.39 L525.37 241.38 L525.63 240.38 L525.88 239.37 L526.13 238.37 L526.38 237.36 L526.62 236.36 L526.87 235.36 L527.12 234.35 L527.37 233.35 L527.61 232.34 L527.86 231.34 L528.10 230.33 L528.35 229.33 L528.59 228.33 L528.84 227.32 L529.08 226.32 L529.32 225.31 L529.56 224.31 L529.80 223.30 L530.05 222.30 L530.29 221.30 L530.53 220.29 L530.77 219.29 L531.00 218.28 L531.24 217.28 L531.48 216.27 L531.72 215.27 L531.95 214.27 L532.19 213.26 L532.43 212.26 L532.66 211.25 L532.89 210.25 L533.13 209.24 L533.36 208.24 L533.59 207.24 L533.83 206.23 L534.06 205.23 L534.29 204.22 L534.52 203.22 L534.75 202.21 L534.98 201.21 L535.21 200.21 L535.44 199.20 L535.66 198.20 L535.89 197.19 L536.12 196.19 L536.34 195.18 L536.57 194.18 L536.79 193.18 L537.02 192.17 L537.24 191.17 L537.46 190.16 L537.69 189.16 L537.91 188.15 L538.13 187.15 L538.35 186.15 L538.57 185.14 L538.79 184.14 L539.01 183.13 L539.23 182.13 L539.44 181.12 L539.66 180.12 L539.88 179.12 L540.09 178.11 L540.31 177.11 L540.52 176.10 L540.74 175.10 L540.95 174.09 L541.16 173.09 L541.37 172.08 L541.58 171.08 L541.80 170.08 L542.01 169.07 L542.21 168.07 L542.42 167.06 L542.63 166.06 L542.84 165.05 L543.05 164.05 L543.25 163.05 L543.46 162.04 L543.66 161.04 L543.87 160.03 L544.07 159.03 L544.27 158.02 L544.48 157.02 L544.68 156.02 L544.88 155.01 L545.08 154.01 L545.28 153.00 L545.48 152.00 L545.68 150.99 L545.87 149.99 L546.07 148.99 L546.27 147.98 L546.46 146.98 L546.66 145.97 L546.85 144.97 L547.05 143.96 L547.24 142.96 L547.43 141.96 L547.62 140.95 L547.81 139.95 L548.00 138.94 L548.19 137.94 L548.38 136.93 L548.57 135.93 L548.76 134.93 L548.94 133.92 L549.13 132.92 L549.32 131.91 L549.50 130.91 L549.68 129.90 L549.87 128.90 L550.05 127.90 L550.23 126.89 L550.41 125.89 L550.59 124.88 L550.77 123.88 L550.95 122.87 L551.13 121.87 L551.31 120.87 L551.48 119.86 L551.66 118.86 L551.84 117.85 L552.01 116.85 L552.18 115.84 L552.36 114.84 L552.53 113.84 L552.70 112.83 L552.87 111.83 L553.04 110.82 L553.21 109.82 L553.38 108.81 L553.55 107.81 L553.72 106.80 L553.88 105.80 L554.05 104.80 L554.21 103.79 L554.38 102.79 L554.54 101.78 L554.70 100.78 L554.86 99.77 L555.03 98.77 L555.19 97.77 L555.35 96.76 L555.50 95.76 L555.66 94.75 L555.82 93.75 L555.98 92.74 L556.13 91.74 L556.29 90.74 L556.44 89.73 L556.59 88.73 L556.75 87.72 L556.90 86.72 L557.05 85.71 L557.20 84.71 L557.35 83.71 L557.50 82.70 L557.65 81.70 L557.79 80.69 L557.94 79.69 L558.08 78.68 L558.23 77.68 L558.37 76.68 L558.52 75.67 L558.66 74.67 L558.80 73.66 L558.94 72.66 L559.08 71.65 L559.22 70.65 L559.36 69.65 L559.49 68.64 L559.63 67.64 L559.77 66.63 L559.90 65.63 L560.04 64.62 L560.17 63.62 L560.30 62.62 L560.43 61.61 L560.56 60.61 L560.69 59.60 L560.82 58.60 L560.95 57.59 L561.08 56.59 L561.20 55.59 L561.33 54.58 L561.45 53.58 L561.58 52.57 L561.70 51.57 L561.82 50.56 L561.95 49.56 L562.07 48.56 L562.19 47.55 L562.30 46.55 L562.42 45.54 L562.54 44.54 L562.66 43.53 L562.77 42.53 L562.89 41.52 L563.00 40.52 L563.11 39.52 L563.22 38.51 L563.33 37.51 L563.44 36.50 L563.55 35.50 L563.66 34.49 L563.77 33.49 L563.88 32.49 L563.98 31.48 L564.09 30.48 L564.19 29.47 L564.29 28.47 L564.39 27.46 L564.50 26.46 L564.60 25.46 L564.70 24.45 L564.79 23.45 L564.89 22.44 L564.99 21.44 L565.08 20.43 L565.18 19.43 L565.27 18.43 L565.37 17.42 L565.46 16.42 L565.55 15.41 L565.64 14.41 L565.73 13.40 L565.82 12.40" stroke="#00b050" stroke-width="4.4" fill="none" stroke-linejoin="round" stroke-linecap="butt"/>
<path d="M113.50 440.00 L114.50 439.98 L115.51 439.96 L116.51 439.95 L117.52 439.93 L118.52 439.91 L119.53 439.90 L120.53 439.88 L121.53 439.87 L122.54 439.85 L123.54 439.84 L124.55 439.83 L125.55 439.81 L126.55 439.80 L127.56 439.79 L128.56 439.78 L129.57 439.77 L130.57 439.76 L131.58 439.75 L132.58 439.74 L133.58 439.73 L134.59 439.72 L135.59 439.71 L136.60 439.71 L137.60 439.70 L138.61 439.69 L139.61 439.69 L140.61 439.68 L141.62 439.67 L142.62 439.67 L143.63 439.66 L144.63 439.66 L145.63 439.66 L146.64 439.65 L147.64 439.65 L148.65 439.65 L149.65 439.64 L150.66 439.64 L151.66 439.64 L152.66 439.64 L153.67 439.64 L154.67 439.64 L155.68 439.64 L156.68 439.63 L157.69 439.63 L158.69 439.63 L159.69 439.64 L160.70 439.64 L161.70 439.64 L162.71 439.64 L163.71 439.64 L164.71 439.64 L165.72 439.64 L166.72 439.65 L167.73 439.65 L168.73 439.65 L169.74 439.65 L170.74 439.66 L171.74 439.66 L172.75 439.66 L173.75 439.67 L174.76 439.67 L175.76 439.68 L176.77 439.68 L177.77 439.68 L178.77 439.69 L179.78 439.69 L180.78 439.70 L181.79 439.70 L182.79 439.71 L183.79 439.71 L184.80 439.72 L185.80 439.72 L186.81 439.73 L187.81 439.74 L188.82 439.74 L189.82 439.75 L190.82 439.75 L191.83 439.76 L192.83 439.76 L193.84 439.77 L194.84 439.78 L195.85 439.78 L196.85 439.79 L197.85 439.80 L198.86 439.80 L199.86 439.81 L200.87 439.81 L201.87 439.82 L202.87 439.83 L203.88 439.83 L204.88 439.84 L205.89 439.85 L206.89 439.85 L207.90 439.86 L208.90 439.87 L209.90 439.87 L210.91 439.88 L211.91 439.88 L212.92 439.89 L213.92 439.90 L214.93 439.90 L215.93 439.91 L216.93 439.91 L217.94 439.92 L218.94 439.92 L219.95 439.93 L220.95 439.93 L221.95 439.94 L222.96 439.94 L223.96 439.95 L224.97 439.95 L225.97 439.96 L226.98 439.96 L227.98 439.97 L228.98 439.97 L229.99 439.98 L230.99 439.98 L232.00 439.98 L233.00 439.99 L234.01 439.99 L235.01 439.99 L236.01 440.00 L237.02 440.00 L238.02 440.00 L239.03 440.00 L240.03 440.00 L241.04 440.01 L242.04 440.01 L243.04 440.01 L244.05 440.01 L245.05 440.01 L246.06 440.01 L247.06 440.01 L248.06 440.01 L249.07 440.01 L250.07 440.01 L251.08 440.01 L252.08 440.01 L253.09 440.01 L254.09 440.00 L255.09 440.00 L256.10 440.00 L257.10 439.99 L258.11 439.99 L259.11 439.99 L260.12 439.98 L261.12 439.98 L262.12 439.97 L263.13 439.97 L264.13 439.96 L265.14 439.96 L266.14 439.95 L267.14 439.94 L268.15 439.94 L269.15 439.93 L270.16 439.92 L271.16 439.91 L272.17 439.90 L273.17 439.89 L274.17 439.88 L275.18 439.87 L276.18 439.86 L277.19 439.85 L278.19 439.84 L279.20 439.83 L280.20 439.81 L281.20 439.80 L282.21 439.79 L283.21 439.77 L284.22 439.76 L285.22 439.74 L286.22 439.73 L287.23 439.71 L288.23 439.69 L289.24 439.67 L290.24 439.66 L291.25 439.64 L292.25 439.62 L293.25 439.60 L294.26 439.58 L295.26 439.56 L296.27 439.54 L297.27 439.51 L298.28 439.49 L299.28 439.47 L300.28 439.44 L301.29 439.42 L302.29 439.39 L303.30 439.37 L304.30 439.34 L305.30 439.31 L306.31 439.29 L307.31 439.26 L308.32 439.23 L309.32 439.20 L310.33 439.17 L311.33 439.14 L312.33 439.10 L313.34 439.07 L314.34 439.04 L315.35 439.00 L316.35 438.97 L317.36 438.93 L318.36 438.90 L319.36 438.86 L320.37 438.82 L321.37 438.78 L322.38 438.74 L323.38 438.70 L324.38 438.66 L325.39 438.62 L326.39 438.58 L327.40 438.54 L328.40 438.49 L329.41 438.45 L330.41 438.40 L331.41 438.35 L332.42 438.31 L333.42 438.26 L334.43 438.21 L335.43 438.16 L336.44 438.11 L337.44 438.06 L338.44 438.00 L339.45 437.95 L340.45 437.90 L341.46 437.84 L342.46 437.79 L343.46 437.73 L344.47 437.67 L345.47 437.61 L346.48 437.55 L347.48 437.49 L348.49 437.42 L349.49 437.35 L350.49 437.29 L351.50 437.22 L352.50 437.14 L353.51 437.07 L354.51 436.99 L355.52 436.91 L356.52 436.83 L357.52 436.74 L358.53 436.66 L359.53 436.57 L360.54 436.47 L361.54 436.38 L362.54 436.28 L363.55 436.17 L364.55 436.07 L365.56 435.96 L366.56 435.84 L367.57 435.73 L368.57 435.61 L369.57 435.48 L370.58 435.35 L371.58 435.22 L372.59 435.08 L373.59 434.94 L374.60 434.79 L375.60 434.64 L376.60 434.49 L377.61 434.33 L378.61 434.16 L379.62 433.99 L380.62 433.82 L381.62 433.63 L382.63 433.45 L383.63 433.26 L384.64 433.06 L385.64 432.86 L386.65 432.65 L387.65 432.43 L388.65 432.22 L389.66 431.99 L390.66 431.76 L391.67 431.53 L392.67 431.29 L393.68 431.04 L394.68 430.79 L395.68 430.54 L396.69 430.28 L397.69 430.01 L398.70 429.75 L399.70 429.48 L400.70 429.20 L401.71 428.92 L402.71 428.64 L403.72 428.35 L404.72 428.06 L405.73 427.76 L406.73 427.46 L407.73 427.16 L408.74 426.86 L409.74 426.55 L410.75 426.24 L411.75 425.92 L412.76 425.61 L413.76 425.29 L414.76 424.97 L415.77 424.64 L416.77 424.31 L417.78 423.99 L418.78 423.65 L419.78 423.32 L420.79 422.99 L421.79 422.65 L422.80 422.31 L423.80 421.97 L424.81 421.63 L425.81 421.29 L426.81 420.94 L427.82 420.60 L428.82 420.25 L429.83 419.90 L430.83 419.55 L431.84 419.20 L432.84 418.85 L433.84 418.50 L434.85 418.15 L435.85 417.80 L436.86 417.45 L437.86 417.10 L438.86 416.75 L439.87 416.40 L440.87 416.05 L441.88 415.70 L442.88 415.35 L443.89 415.00 L444.89 414.65 L445.89 414.30 L446.90 413.96 L447.90 413.61 L448.91 413.26 L449.91 412.92 L450.92 412.58 L451.92 412.24 L452.92 411.90 L453.93 411.56 L454.93 411.23 L455.94 410.89 L456.94 410.56 L457.95 410.23 L458.95 409.90 L459.95 409.56 L460.96 409.22 L461.96 408.88 L462.97 408.54 L463.97 408.19 L464.97 407.83 L465.98 407.47 L466.98 407.10 L467.99 406.72 L468.99 406.34 L470.00 405.94 L471.00 405.53 L472.00 405.11 L473.01 404.67 L474.01 404.23 L475.02 403.76 L476.02 403.29 L477.03 402.79 L478.03 402.28 L479.03 401.75 L480.04 401.20 L481.04 400.63 L482.05 400.04 L483.05 399.43 L484.05 398.80 L485.06 398.14 L486.06 397.46 L487.07 396.75 L488.07 396.02 L489.08 395.26 L490.08 394.47 L491.08 393.66 L492.09 392.81 L493.09 391.94 L494.10 391.03 L495.10 390.09 L496.11 389.12 L497.11 388.11 L498.11 387.07 L499.12 385.99 L500.12 384.88 L501.13 383.73 L502.13 382.55 L503.13 381.33 L504.14 380.08 L505.14 378.80 L506.15 377.48 L507.15 376.14 L508.16 374.76 L509.16 373.35 L510.16 371.92 L511.17 370.45 L512.17 368.96 L513.18 367.44 L514.18 365.89 L515.19 364.31 L516.19 362.71 L517.19 361.09 L518.20 359.44 L519.20 357.77 L520.21 356.07 L521.21 354.36 L522.21 352.62 L523.22 350.86 L524.22 349.08 L525.23 347.28 L526.23 345.46 L527.24 343.62 L528.24 341.77 L529.24 339.90 L530.25 338.01 L531.25 336.11 L532.26 334.19 L533.26 332.26 L534.27 330.31 L535.27 328.35 L536.27 326.38 L537.28 324.39 L538.28 322.37 L539.29 320.34 L540.29 318.28 L541.29 316.19 L542.30 314.07 L543.30 311.92 L544.31 309.73 L545.31 307.50 L546.32 305.24 L547.32 302.93 L548.32 300.57 L549.33 298.17 L550.33 295.72 L551.34 293.22 L552.34 290.66 L553.35 288.04 L554.35 285.36 L555.35 282.62 L556.36 279.81 L557.36 276.94 L558.37 273.99 L559.37 270.97 L560.37 267.88 L561.38 264.70 L562.38 261.45 L563.39 258.11 L564.39 254.68 L565.40 251.16 L566.40 247.55" stroke="#0f6fc0" stroke-width="4.4" fill="none" stroke-linejoin="round" stroke-linecap="butt"/>
<path d="M113.50 436.00 L114.50 435.98 L115.51 435.95 L116.51 435.93 L117.52 435.91 L118.52 435.89 L119.53 435.87 L120.53 435.85 L121.53 435.83 L122.54 435.82 L123.54 435.80 L124.55 435.78 L125.55 435.77 L126.55 435.75 L127.56 435.74 L128.56 435.73 L129.57 435.71 L130.57 435.70 L131.58 435.69 L132.58 435.68 L133.58 435.67 L134.59 435.66 L135.59 435.65 L136.60 435.64 L137.60 435.63 L138.61 435.63 L139.61 435.62 L140.61 435.61 L141.62 435.61 L142.62 435.60 L143.63 435.60 L144.63 435.59 L145.63 435.59 L146.64 435.58 L147.64 435.58 L148.65 435.58 L149.65 435.58 L150.66 435.58 L151.66 435.57 L152.66 435.57 L153.67 435.57 L154.67 435.57 L155.68 435.58 L156.68 435.58 L157.69 435.58 L158.69 435.58 L159.69 435.58 L160.70 435.58 L161.70 435.59 L162.71 435.59 L163.71 435.59 L164.71 435.60 L165.72 435.60 L166.72 435.61 L167.73 435.61 L168.73 435.62 L169.74 435.62 L170.74 435.63 L171.74 435.63 L172.75 435.64 L173.75 435.65 L174.76 435.65 L175.76 435.66 L176.77 435.67 L177.77 435.68 L178.77 435.68 L179.78 435.69 L180.78 435.70 L181.79 435.71 L182.79 435.72 L183.79 435.73 L184.80 435.73 L185.80 435.74 L186.81 435.75 L187.81 435.76 L188.82 435.77 L189.82 435.78 L190.82 435.79 L191.83 435.80 L192.83 435.81 L193.84 435.82 L194.84 435.83 L195.85 435.84 L196.85 435.85 L197.85 435.86 L198.86 435.87 L199.86 435.88 L200.87 435.89 L201.87 435.90 L202.87 435.91 L203.88 435.92 L204.88 435.93 L205.89 435.94 L206.89 435.95 L207.90 435.96 L208.90 435.97 L209.90 435.98 L210.91 435.99 L211.91 436.00 L212.92 436.01 L213.92 436.02 L214.93 436.03 L215.93 436.04 L216.93 436.05 L217.94 436.06 L218.94 436.06 L219.95 436.07 L220.95 436.08 L221.95 436.09 L222.96 436.10 L223.96 436.11 L224.97 436.11 L225.97 436.12 L226.98 436.13 L227.98 436.14 L228.98 436.14 L229.99 436.15 L230.99 436.16 L232.00 436.16 L233.00 436.17 L234.01 436.17 L235.01 436.18 L236.01 436.18 L237.02 436.19 L238.02 436.19 L239.03 436.20 L240.03 436.20 L241.04 436.21 L242.04 436.21 L243.04 436.21 L244.05 436.21 L245.05 436.22 L246.06 436.22 L247.06 436.22 L248.06 436.22 L249.07 436.22 L250.07 436.22 L251.08 436.22 L252.08 436.22 L253.09 436.22 L254.09 436.22 L255.09 436.21 L256.10 436.21 L257.10 436.21 L258.11 436.21 L259.11 436.20 L260.12 436.20 L261.12 436.19 L262.12 436.19 L263.13 436.18 L264.13 436.17 L265.14 436.17 L266.14 436.16 L267.14 436.15 L268.15 436.14 L269.15 436.13 L270.16 436.12 L271.16 436.11 L272.17 436.10 L273.17 436.09 L274.17 436.08 L275.18 436.06 L276.18 436.05 L277.19 436.03 L278.19 436.02 L279.20 436.00 L280.20 435.99 L281.20 435.97 L282.21 435.95 L283.21 435.93 L284.22 435.91 L285.22 435.89 L286.22 435.87 L287.23 435.85 L288.23 435.83 L289.24 435.81 L290.24 435.78 L291.25 435.76 L292.25 435.73 L293.25 435.71 L294.26 435.68 L295.26 435.65 L296.27 435.62 L297.27 435.60 L298.28 435.57 L299.28 435.53 L300.28 435.50 L301.29 435.47 L302.29 435.44 L303.30 435.40 L304.30 435.37 L305.30 435.33 L306.31 435.29 L307.31 435.25 L308.32 435.22 L309.32 435.18 L310.33 435.14 L311.33 435.09 L312.33 435.05 L313.34 435.01 L314.34 434.96 L315.35 434.92 L316.35 434.87 L317.36 434.82 L318.36 434.77 L319.36 434.72 L320.37 434.67 L321.37 434.62 L322.38 434.57 L323.38 434.51 L324.38 434.46 L325.39 434.40 L326.39 434.35 L327.40 434.29 L328.40 434.23 L329.41 434.17 L330.41 434.11 L331.41 434.04 L332.42 433.98 L333.42 433.91 L334.43 433.85 L335.43 433.78 L336.44 433.71 L337.44 433.64 L338.44 433.57 L339.45 433.50 L340.45 433.43 L341.46 433.35 L342.46 433.28 L343.46 433.20 L344.47 433.12 L345.47 433.04 L346.48 432.96 L347.48 432.88 L348.49 432.80 L349.49 432.71 L350.49 432.63 L351.50 432.54 L352.50 432.45 L353.51 432.36 L354.51 432.27 L355.52 432.18 L356.52 432.08 L357.52 431.99 L358.53 431.89 L359.53 431.79 L360.54 431.70 L361.54 431.59 L362.54 431.49 L363.55 431.39 L364.55 431.28 L365.56 431.18 L366.56 431.07 L367.57 430.96 L368.57 430.85 L369.57 430.74 L370.58 430.63 L371.58 430.51 L372.59 430.39 L373.59 430.28 L374.60 430.16 L375.60 430.04 L376.60 429.91 L377.61 429.79 L378.61 429.66 L379.62 429.54 L380.62 429.41 L381.62 429.28 L382.63 429.15 L383.63 429.01 L384.64 428.88 L385.64 428.74 L386.65 428.60 L387.65 428.46 L388.65 428.32 L389.66 428.18 L390.66 428.03 L391.67 427.89 L392.67 427.74 L393.68 427.59 L394.68 427.44 L395.68 427.28 L396.69 427.13 L397.69 426.97 L398.70 426.81 L399.70 426.65 L400.70 426.49 L401.71 426.33 L402.71 426.16 L403.72 426.00 L404.72 425.83 L405.73 425.66 L406.73 425.49 L407.73 425.31 L408.74 425.14 L409.74 424.96 L410.75 424.78 L411.75 424.60 L412.76 424.41 L413.76 424.23 L414.76 424.04 L415.77 423.85 L416.77 423.66 L417.78 423.47 L418.78 423.28 L419.78 423.08 L420.79 422.88 L421.79 422.68 L422.80 422.48 L423.80 422.27 L424.81 422.07 L425.81 421.86 L426.81 421.64 L427.82 421.43 L428.82 421.21 L429.83 420.99 L430.83 420.76 L431.84 420.53 L432.84 420.30 L433.84 420.06 L434.85 419.82 L435.85 419.58 L436.86 419.33 L437.86 419.08 L438.86 418.82 L439.87 418.56 L440.87 418.29 L441.88 418.02 L442.88 417.74 L443.89 417.46 L444.89 417.17 L445.89 416.87 L446.90 416.58 L447.90 416.27 L448.91 415.96 L449.91 415.64 L450.92 415.32 L451.92 414.99 L452.92 414.65 L453.93 414.31 L454.93 413.96 L455.94 413.60 L456.94 413.24 L457.95 412.87 L458.95 412.49 L459.95 412.10 L460.96 411.71 L461.96 411.31 L462.97 410.90 L463.97 410.48 L464.97 410.05 L465.98 409.62 L466.98 409.17 L467.99 408.72 L468.99 408.26 L470.00 407.79 L471.00 407.31 L472.00 406.82 L473.01 406.33 L474.01 405.82 L475.02 405.30 L476.02 404.77 L477.03 404.24 L478.03 403.69 L479.03 403.13 L480.04 402.56 L481.04 401.99 L482.05 401.40 L483.05 400.80 L484.05 400.19 L485.06 399.56 L486.06 398.93 L487.07 398.28 L488.07 397.62 L489.08 396.94 L490.08 396.25 L491.08 395.54 L492.09 394.81 L493.09 394.06 L494.10 393.29 L495.10 392.51 L496.11 391.69 L497.11 390.86 L498.11 390.00 L499.12 389.12 L500.12 388.21 L501.13 387.27 L502.13 386.30 L503.13 385.31 L504.14 384.28 L505.14 383.22 L506.15 382.13 L507.15 381.01 L508.16 379.85 L509.16 378.66 L510.16 377.43 L511.17 376.16 L512.17 374.87 L513.18 373.53 L514.18 372.17 L515.19 370.77 L516.19 369.33 L517.19 367.87 L518.20 366.38 L519.20 364.85 L520.21 363.30 L521.21 361.71 L522.21 360.10 L523.22 358.46 L524.22 356.79 L525.23 355.10 L526.23 353.38 L527.24 351.63 L528.24 349.86 L529.24 348.07 L530.25 346.25 L531.25 344.41 L532.26 342.54 L533.26 340.66 L534.27 338.75 L535.27 336.83 L536.27 334.88 L537.28 332.91 L538.28 330.93 L539.29 328.93 L540.29 326.90 L541.29 324.86 L542.30 322.80 L543.30 320.71 L544.31 318.60 L545.31 316.46 L546.32 314.29 L547.32 312.09 L548.32 309.86 L549.33 307.60 L550.33 305.29 L551.34 302.95 L552.34 300.57 L553.35 298.15 L554.35 295.69 L555.35 293.18 L556.36 290.62 L557.36 288.02 L558.37 285.36 L559.37 282.65 L560.37 279.89 L561.38 277.06 L562.38 274.18 L563.39 271.23 L564.39 268.23 L565.40 265.15 L566.40 262.01" stroke="#c0504d" stroke-width="4.4" fill="none" stroke-linejoin="round" stroke-linecap="butt"/>
<path d="M405.7 141.6H381.1" stroke="#808080" stroke-width="1.75" fill="none"/><path d="M378.30 141.60 Q382.10 139.30 387.30 133.70 L389.00 134.90 Q385.50 138.80 383.70 141.60 Q385.50 144.40 389.00 148.30 L387.30 149.50 Q382.10 143.90 378.30 141.60Z" fill="#808080"/>
<path d="M514.1 109.6H538.6" stroke="#00b050" stroke-width="1.75" fill="none"/><path d="M541.40 109.60 Q537.60 107.30 532.40 101.70 L530.70 102.90 Q534.20 106.80 536.00 109.60 Q534.20 112.40 530.70 116.30 L532.40 117.50 Q537.60 111.90 541.40 109.60Z" fill="#00b050"/>
<path d="M322.6 363.7H299.5" stroke="#7030a0" stroke-width="1.75" fill="none"/><path d="M296.70 363.70 Q300.50 361.40 305.70 355.80 L307.40 357.00 Q303.90 360.90 302.10 363.70 Q303.90 366.50 307.40 370.40 L305.70 371.60 Q300.50 366.00 296.70 363.70Z" fill="#7030a0"/>
<path d="M441.7 344.3H417.6" stroke="#05b0ee" stroke-width="1.75" fill="none"/><path d="M414.80 344.30 Q418.60 342.00 423.80 336.40 L425.50 337.60 Q422.00 341.50 420.20 344.30 Q422.00 347.10 425.50 351.00 L423.80 352.20 Q418.60 346.60 414.80 344.30Z" fill="#05b0ee"/>
<path d="M526.2 378.5H550.5" stroke="#0f6fc0" stroke-width="1.75" fill="none"/><path d="M553.30 378.50 Q549.50 376.20 544.30 370.60 L542.60 371.80 Q546.10 375.70 547.90 378.50 Q546.10 381.30 542.60 385.20 L544.30 386.40 Q549.50 380.80 553.30 378.50Z" fill="#0f6fc0"/>
<path d="M509.4 400.5H534.0" stroke="#c0504d" stroke-width="1.75" fill="none"/><path d="M536.80 400.50 Q533.00 398.20 527.80 392.60 L526.10 393.80 Q529.60 397.70 531.40 400.50 Q529.60 403.30 526.10 407.20 L527.80 408.40 Q533.00 402.80 536.80 400.50Z" fill="#c0504d"/>
<path d="M114.40 800.50 L118.95 799.49 L123.50 798.49 L128.05 797.48 L132.58 796.48 L137.12 795.47 L141.65 794.47 L146.19 793.46 L150.72 792.46 L155.26 791.45 L159.81 790.45 L164.37 789.44 L168.98 788.44 L173.69 787.43 L178.54 786.42 L183.40 785.42 L187.88 784.41 L191.60 783.41 L194.51 782.40 L196.78 781.40 L198.60 780.39 L200.18 779.39 L201.67 778.38 L203.14 777.38 L204.58 776.37 L206.00 775.37 L207.39 774.36 L208.76 773.36 L210.10 772.35 L211.42 771.34 L212.72 770.34 L214.00 769.33 L215.26 768.33 L216.49 767.32 L217.70 766.32 L218.90 765.31 L220.07 764.31 L221.22 763.30 L222.36 762.30 L223.47 761.29 L224.57 760.29 L225.65 759.28 L226.72 758.27 L227.77 757.27 L228.80 756.26 L229.81 755.26 L230.81 754.25 L231.80 753.25 L232.77 752.24 L233.73 751.24 L234.68 750.23 L235.61 749.23 L236.53 748.22 L237.44 747.22 L238.34 746.21 L239.22 745.21 L240.10 744.20 L240.96 743.19 L241.82 742.19 L242.67 741.18 L243.51 740.18 L244.34 739.17 L245.16 738.17 L245.98 737.16 L246.79 736.16 L247.59 735.15 L248.39 734.15 L249.18 733.14 L249.97 732.14 L250.76 731.13 L251.54 730.12 L252.31 729.12 L253.08 728.11 L253.85 727.11 L254.61 726.10 L255.37 725.10 L256.12 724.09 L256.87 723.09 L257.62 722.08 L258.36 721.08 L259.10 720.07 L259.83 719.07 L260.56 718.06 L261.28 717.06 L262.00 716.05 L262.72 715.04 L263.43 714.04 L264.14 713.03 L264.84 712.03 L265.55 711.02 L266.24 710.02 L266.93 709.01 L267.62 708.01 L268.31 707.00 L268.99 706.00 L269.67 704.99 L270.34 703.99 L271.01 702.98 L271.68 701.98 L272.34 700.97 L273.00 699.96 L273.66 698.96 L274.31 697.95 L274.96 696.95 L275.60 695.94 L276.24 694.94 L276.88 693.93 L277.51 692.93 L278.14 691.92 L278.77 690.92 L279.39 689.91 L280.01 688.91 L280.63 687.90 L281.24 686.89 L281.85 685.89 L282.46 684.88 L283.07 683.88 L283.67 682.87 L284.26 681.87 L284.86 680.86 L285.45 679.86 L286.03 678.85 L286.62 677.85 L287.20 676.84 L287.78 675.84 L288.35 674.83 L288.93 673.83 L289.50 672.82 L290.06 671.81 L290.62 670.81 L291.18 669.80 L291.74 668.80 L292.30 667.79 L292.85 666.79 L293.40 665.78 L293.94 664.78 L294.49 663.77 L295.03 662.77 L295.56 661.76 L296.10 660.76 L296.63 659.75 L297.16 658.74 L297.69 657.74 L298.21 656.73 L298.73 655.73 L299.25 654.72 L299.77 653.72 L300.28 652.71 L300.79 651.71 L301.30 650.70 L301.81 649.70 L302.31 648.69 L302.81 647.69 L303.31 646.68 L303.81 645.67 L304.30 644.67 L304.79 643.66 L305.28 642.66 L305.77 641.65 L306.26 640.65 L306.74 639.64 L307.22 638.64 L307.70 637.63 L308.17 636.63 L308.65 635.62 L309.12 634.62 L309.59 633.61 L310.06 632.61 L310.52 631.60 L310.99 630.59 L311.45 629.59 L311.91 628.58 L312.37 627.58 L312.82 626.57 L313.28 625.57 L313.73 624.56 L314.18 623.56 L314.63 622.55 L315.08 621.55 L315.52 620.54 L315.96 619.54 L316.40 618.53 L316.84 617.52 L317.28 616.52 L317.72 615.51 L318.15 614.51 L318.58 613.50 L319.01 612.50 L319.44 611.49 L319.86 610.49 L320.28 609.48 L320.70 608.48 L321.12 607.47 L321.54 606.47 L321.95 605.46 L322.36 604.46 L322.77 603.45 L323.18 602.44 L323.59 601.44 L323.99 600.43 L324.39 599.43 L324.79 598.42 L325.18 597.42 L325.58 596.41 L325.97 595.41 L326.36 594.40 L326.74 593.40 L327.13 592.39 L327.51 591.39 L327.89 590.38 L328.27 589.38 L328.64 588.37 L329.01 587.36 L329.38 586.36 L329.75 585.35 L330.11 584.35 L330.47 583.34 L330.83 582.34 L331.19 581.33 L331.54 580.33 L331.90 579.32 L332.25 578.32 L332.59 577.31 L332.93 576.31 L333.28 575.30 L333.61 574.29 L333.95 573.29 L334.28 572.28 L334.61 571.28 L334.94 570.27 L335.26 569.27 L335.58 568.26 L335.90 567.26 L336.22 566.25 L336.53 565.25 L336.84 564.24 L337.15 563.24 L337.45 562.23 L337.76 561.23 L338.05 560.22 L338.35 559.21 L338.64 558.21 L338.93 557.20 L339.22 556.20 L339.50 555.19 L339.78 554.19 L340.06 553.18 L340.33 552.18 L340.61 551.17 L340.88 550.17 L341.15 549.16 L341.42 548.16 L341.69 547.15 L341.96 546.14 L342.24 545.14 L342.52 544.13 L342.81 543.13 L343.10 542.12 L343.39 541.12 L343.70 540.11 L344.01 539.11 L344.33 538.10 L344.66 537.10 L345.00 536.09 L345.35 535.09 L345.72 534.08 L346.09 533.08 L346.48 532.07 L346.89 531.06 L347.31 530.06 L347.74 529.05 L348.20 528.05 L348.67 527.04 L349.16 526.04 L349.67 525.03 L350.20 524.03 L350.75 523.02 L351.32 522.02 L351.92 521.01 L352.54 520.01 L353.18 519.00 L353.31 519.00 L353.55 520.00 L353.79 521.01 L354.02 522.01 L354.26 523.01 L354.49 524.02 L354.72 525.02 L354.95 526.02 L355.18 527.03 L355.41 528.03 L355.64 529.03 L355.87 530.04 L356.10 531.04 L356.32 532.04 L356.55 533.05 L356.77 534.05 L357.00 535.05 L357.22 536.06 L357.44 537.06 L357.66 538.06 L357.88 539.07 L358.10 540.07 L358.32 541.07 L358.53 542.07 L358.75 543.08 L358.96 544.08 L359.18 545.08 L359.39 546.09 L359.60 547.09 L359.82 548.09 L360.03 549.10 L360.24 550.10 L360.44 551.10 L360.65 552.11 L360.86 553.11 L361.07 554.11 L361.27 555.12 L361.48 556.12 L361.68 557.12 L361.88 558.13 L362.09 559.13 L362.29 560.13 L362.49 561.14 L362.69 562.14 L362.89 563.14 L363.09 564.15 L363.28 565.15 L363.48 566.15 L363.68 567.16 L363.87 568.16 L364.07 569.16 L364.26 570.17 L364.45 571.17 L364.64 572.17 L364.84 573.18 L365.03 574.18 L365.22 575.18 L365.40 576.19 L365.59 577.19 L365.78 578.19 L365.97 579.20 L366.15 580.20 L366.34 581.20 L366.52 582.21 L366.70 583.21 L366.89 584.21 L367.07 585.22 L367.25 586.22 L367.43 587.22 L367.61 588.22 L367.79 589.23 L367.97 590.23 L368.15 591.23 L368.32 592.24 L368.50 593.24 L368.67 594.24 L368.85 595.25 L369.02 596.25 L369.20 597.25 L369.37 598.26 L369.54 599.26 L369.71 600.26 L369.88 601.27 L370.05 602.27 L370.22 603.27 L370.39 604.28 L370.56 605.28 L370.73 606.28 L370.89 607.29 L371.06 608.29 L371.22 609.29 L371.39 610.30 L371.55 611.30 L371.71 612.30 L371.88 613.31 L372.04 614.31 L372.20 615.31 L372.36 616.32 L372.52 617.32 L372.68 618.32 L372.84 619.33 L373.00 620.33 L373.15 621.33 L373.31 622.34 L373.47 623.34 L373.62 624.34 L373.78 625.35 L373.93 626.35 L374.09 627.35 L374.24 628.36 L374.39 629.36 L374.54 630.36 L374.69 631.36 L374.85 632.37 L375.00 633.37 L375.14 634.37 L375.29 635.38 L375.44 636.38 L375.59 637.38 L375.74 638.39 L375.88 639.39 L376.03 640.39 L376.18 641.40 L376.32 642.40 L376.47 643.40 L376.61 644.41 L376.75 645.41 L376.90 646.41 L377.04 647.42 L377.18 648.42 L377.32 649.42 L377.46 650.43 L377.60 651.43 L377.74 652.43 L377.88 653.44 L378.02 654.44 L378.16 655.44 L378.29 656.45 L378.43 657.45 L378.57 658.45 L378.70 659.46 L378.84 660.46 L378.97 661.46 L379.11 662.47 L379.24 663.47 L379.38 664.47 L379.51 665.48 L379.64 666.48 L379.77 667.48 L379.91 668.49 L380.04 669.49 L380.17 670.49 L380.30 671.50 L380.43 672.50 L380.56 673.50 L380.69 674.51 L380.81 675.51 L380.94 676.51 L381.07 677.51 L381.20 678.52 L381.32 679.52 L381.45 680.52 L381.57 681.53 L381.70 682.53 L381.83 683.53 L381.95 684.54 L382.07 685.54 L382.20 686.54 L382.32 687.55 L382.44 688.55 L382.57 689.55 L382.69 690.56 L382.81 691.56 L382.93 692.56 L383.05 693.57 L383.17 694.57 L383.29 695.57 L383.41 696.58 L383.53 697.58 L383.65 698.58 L383.77 699.59 L383.89 700.59 L384.00 701.59 L384.12 702.60 L384.24 703.60 L384.36 704.60 L384.47 705.61 L384.59 706.61 L384.70 707.61 L384.82 708.62 L384.93 709.62 L385.05 710.62 L385.16 711.63 L385.28 712.63 L385.39 713.63 L385.50 714.64 L385.62 715.64 L385.73 716.64 L385.84 717.65 L385.95 718.65 L386.07 719.65 L386.18 720.65 L386.29 721.66 L386.40 722.66 L386.51 723.66 L386.62 724.67 L386.73 725.67 L386.84 726.67 L386.95 727.68 L387.06 728.68 L387.17 729.68 L387.28 730.69 L387.38 731.69 L387.49 732.69 L387.60 733.70 L387.71 734.70 L387.81 735.70 L387.92 736.71 L388.03 737.71 L388.13 738.71 L388.24 739.72 L388.35 740.72 L388.45 741.72 L388.56 742.73 L388.66 743.73 L388.77 744.73 L388.87 745.74 L388.98 746.74 L389.08 747.74 L389.19 748.75 L389.29 749.75 L389.39 750.75 L389.50 751.76 L389.60 752.76 L389.70 753.76 L389.81 754.77 L389.91 755.77 L390.01 756.77 L390.12 757.78 L390.22 758.78 L390.32 759.78 L390.42 760.79 L390.52 761.79 L390.62 762.79 L390.73 763.79 L390.83 764.80 L390.93 765.80 L391.03 766.80 L391.13 767.81 L391.23 768.81 L391.33 769.81 L391.43 770.82 L391.53 771.82 L391.63 772.82 L391.73 773.83 L391.83 774.83 L391.93 775.83 L392.03 776.84 L392.13 777.84 L392.23 778.84 L392.33 779.85 L392.43 780.85 L392.53 781.85 L392.62 782.86 L392.72 783.86 L392.82 784.86 L392.92 785.87 L393.02 786.87 L393.12 787.87 L393.22 788.88 L393.31 789.88 L393.41 790.88 L393.51 791.89 L393.61 792.89 L393.71 793.89 L393.80 794.90 L393.90 795.90 L394.00 796.90 L394.10 797.91 L394.19 798.91 L394.29 799.91 L394.39 800.92 L394.49 801.92 L394.58 802.92 L394.68 803.93 L394.78 804.93 L394.88 805.93 L394.97 806.94 L395.07 807.94 L395.17 808.94 L395.27 809.94 L395.36 810.95 L395.46 811.95 L395.56 812.95 L395.65 813.96 L395.75 814.96 L395.85 815.96 L395.95 816.97 L396.04 817.97 L396.14 818.97 L396.24 819.98 L396.33 820.98 L396.43 821.98 L396.53 822.99 L396.63 823.99 L396.72 824.99 L396.82 826.00 L396.92 827.00 L397.02 828.00 L397.11 829.01 L397.21 830.01 L397.31 831.01 L397.41 832.02 L397.50 833.02 L397.60 834.02 L397.70 835.03 L397.80 836.03 L397.90 837.03 L397.99 838.04 L398.09 839.04 L398.19 840.04 L398.29 841.05 L398.39 842.05 L398.49 843.05 L398.58 844.06 L398.68 845.06 L398.78 846.06 L398.88 847.07 L398.98 848.07 L399.08 849.07 L399.18 850.08 L399.28 851.08 L399.38 852.08 L399.48 853.08 L399.58 854.09 L399.68 855.09 L399.78 856.09 L399.88 857.10 L399.98 858.10 L400.08 859.10 L400.18 860.11 L400.28 861.11 L400.38 862.11 L400.48 863.12 L400.58 864.12 L400.68 865.12 L400.78 866.13 L400.88 867.13 L400.99 868.13 L401.09 869.14 L401.19 870.14 L401.29 871.14 L401.40 872.15 L401.50 873.15 L401.60 874.15 L401.70 875.16 L401.81 876.16 L401.91 877.16 L402.01 878.17 L402.12 879.17 L402.22 880.17 L402.33 881.18 L402.43 882.18 L402.54 883.18 L402.64 884.19 L402.75 885.19 L402.85 886.19 L402.96 887.20 L403.06 888.20 L403.17 889.20 L403.28 890.21 L403.38 891.21 L403.49 892.21 L403.60 893.22 L403.70 894.22 L403.81 895.22 L403.92 896.23 L404.03 897.23 L404.14 898.23 L404.24 899.23 L404.35 900.24 L404.46 901.24 L404.57 902.24 L404.68 903.25 L404.79 904.25 L404.90 905.25 L405.01 906.26 L405.12 907.26 L405.24 908.26 L405.35 909.27 L405.46 910.27 L405.57 911.27 L405.68 912.28 L405.80 913.28 L405.91 914.28 L406.02 915.29 L406.14 916.29 L406.25 917.29 L406.37 918.30 L406.48 919.30 L406.50 919.30 L568.50 919.30" stroke="#808080" stroke-width="4.4" fill="none" stroke-linejoin="round" stroke-linecap="butt"/>
<path d="M114.60 854.19 L115.61 854.77 L116.63 855.35 L117.64 855.93 L118.66 856.50 L119.67 857.07 L120.69 857.64 L121.70 858.20 L122.72 858.77 L123.73 859.33 L124.75 859.89 L125.76 860.45 L126.78 861.01 L127.79 861.57 L128.81 862.13 L129.82 862.70 L130.84 863.26 L131.85 863.82 L132.87 864.38 L133.88 864.95 L134.89 865.52 L135.91 866.09 L136.92 866.66 L137.94 867.24 L138.95 867.82 L139.97 868.40 L140.98 868.99 L142.00 869.59 L143.01 870.18 L144.03 870.79 L145.04 871.39 L146.06 872.01 L147.07 872.63 L148.09 873.25 L149.10 873.88 L150.12 874.52 L151.13 875.17 L152.15 875.83 L153.16 876.49 L154.17 877.16 L155.19 877.84 L156.20 878.53 L157.22 879.23 L158.23 879.94 L159.25 880.65 L160.26 881.38 L161.28 882.12 L162.29 882.87 L163.31 883.63 L164.32 884.40 L165.34 885.19 L166.35 885.98 L167.37 886.79 L168.38 887.62 L169.40 888.45 L170.41 889.30 L171.43 890.16 L172.44 891.04 L173.45 891.93 L174.47 892.83 L175.48 893.75 L176.50 894.67 L177.51 895.60 L178.53 896.54 L179.54 897.48 L180.56 898.42 L181.57 899.37 L182.59 900.31 L183.60 901.25 L184.62 902.19 L185.63 903.12 L186.65 904.04 L187.66 904.95 L188.68 905.85 L189.69 906.74 L190.71 907.61 L191.72 908.47 L192.73 909.31 L193.75 910.12 L194.76 910.92 L195.78 911.70 L196.79 912.45 L197.81 913.17 L198.82 913.86 L199.84 914.53 L200.85 915.16 L201.87 915.76 L202.88 916.32 L203.90 916.85 L204.91 917.34 L205.93 917.79 L206.94 918.19 L207.96 918.56 L208.97 918.87 L209.99 919.15 L211.00 919.37 L211.00 919.30 L406.00 919.30" stroke="#7030a0" stroke-width="4.4" fill="none" stroke-linejoin="round" stroke-linecap="butt"/>
<path d="M114.50 910.30 L115.50 910.27 L116.50 910.23 L117.51 910.20 L118.51 910.16 L119.51 910.13 L120.51 910.09 L121.52 910.06 L122.52 910.02 L123.52 909.99 L124.52 909.95 L125.52 909.91 L126.53 909.88 L127.53 909.84 L128.53 909.81 L129.53 909.77 L130.54 909.74 L131.54 909.70 L132.54 909.66 L133.54 909.63 L134.54 909.59 L135.55 909.56 L136.55 909.52 L137.55 909.48 L138.55 909.45 L139.56 909.41 L140.56 909.37 L141.56 909.34 L142.56 909.30 L143.56 909.26 L144.57 909.23 L145.57 909.19 L146.57 909.15 L147.57 909.11 L148.58 909.07 L149.58 909.04 L150.58 909.00 L151.58 908.96 L152.58 908.92 L153.59 908.88 L154.59 908.84 L155.59 908.80 L156.59 908.76 L157.59 908.72 L158.60 908.68 L159.60 908.64 L160.60 908.60 L161.60 908.56 L162.61 908.52 L163.61 908.47 L164.61 908.43 L165.61 908.39 L166.61 908.35 L167.62 908.30 L168.62 908.26 L169.62 908.22 L170.62 908.17 L171.63 908.13 L172.63 908.08 L173.63 908.04 L174.63 907.99 L175.63 907.95 L176.64 907.90 L177.64 907.85 L178.64 907.81 L179.64 907.76 L180.65 907.71 L181.65 907.66 L182.65 907.61 L183.65 907.57 L184.65 907.52 L185.66 907.47 L186.66 907.42 L187.66 907.36 L188.66 907.31 L189.67 907.26 L190.67 907.21 L191.67 907.16 L192.67 907.10 L193.67 907.05 L194.68 907.00 L195.68 906.94 L196.68 906.89 L197.68 906.83 L198.69 906.77 L199.69 906.72 L200.69 906.66 L201.69 906.60 L202.69 906.54 L203.70 906.48 L204.70 906.42 L205.70 906.36 L206.70 906.30 L207.71 906.24 L208.71 906.18 L209.71 906.12 L210.71 906.05 L211.71 905.99 L212.72 905.93 L213.72 905.86 L214.72 905.80 L215.72 905.73 L216.73 905.66 L217.73 905.60 L218.73 905.53 L219.73 905.46 L220.73 905.39 L221.74 905.32 L222.74 905.25 L223.74 905.18 L224.74 905.10 L225.75 905.03 L226.75 904.96 L227.75 904.88 L228.75 904.81 L229.75 904.73 L230.76 904.66 L231.76 904.58 L232.76 904.50 L233.76 904.42 L234.76 904.34 L235.77 904.26 L236.77 904.18 L237.77 904.10 L238.77 904.02 L239.78 903.93 L240.78 903.85 L241.78 903.76 L242.78 903.68 L243.78 903.59 L244.79 903.50 L245.79 903.41 L246.79 903.32 L247.79 903.23 L248.80 903.14 L249.80 903.05 L250.80 902.96 L251.80 902.86 L252.80 902.77 L253.81 902.67 L254.81 902.58 L255.81 902.48 L256.81 902.38 L257.82 902.28 L258.82 902.18 L259.82 902.08 L260.82 901.98 L261.82 901.88 L262.83 901.77 L263.83 901.67 L264.83 901.56 L265.83 901.46 L266.84 901.35 L267.84 901.24 L268.84 901.13 L269.84 901.02 L270.84 900.91 L271.85 900.80 L272.85 900.68 L273.85 900.57 L274.85 900.45 L275.86 900.34 L276.86 900.22 L277.86 900.10 L278.86 899.98 L279.86 899.86 L280.87 899.74 L281.87 899.61 L282.87 899.49 L283.87 899.36 L284.88 899.24 L285.88 899.11 L286.88 898.98 L287.88 898.85 L288.88 898.72 L289.89 898.59 L290.89 898.45 L291.89 898.32 L292.89 898.19 L293.90 898.05 L294.90 897.91 L295.90 897.77 L296.90 897.63 L297.90 897.49 L298.91 897.35 L299.91 897.20 L300.91 897.06 L301.91 896.91 L302.92 896.77 L303.92 896.62 L304.92 896.47 L305.92 896.32 L306.92 896.16 L307.93 896.01 L308.93 895.86 L309.93 895.70 L310.93 895.54 L311.93 895.38 L312.94 895.22 L313.94 895.06 L314.94 894.90 L315.94 894.74 L316.95 894.57 L317.95 894.41 L318.95 894.24 L319.95 894.07 L320.95 893.90 L321.96 893.73 L322.96 893.55 L323.96 893.38 L324.96 893.20 L325.97 893.03 L326.97 892.85 L327.97 892.67 L328.97 892.49 L329.97 892.30 L330.98 892.12 L331.98 891.93 L332.98 891.75 L333.98 891.56 L334.99 891.37 L335.99 891.18 L336.99 890.98 L337.99 890.79 L338.99 890.59 L340.00 890.40 L341.00 890.20 L342.00 890.00 L343.00 889.80 L344.01 889.59 L345.01 889.39 L346.01 889.18 L347.01 888.98 L348.01 888.77 L349.02 888.56 L350.02 888.34 L351.02 888.13 L352.02 887.92 L353.03 887.70 L354.03 887.48 L355.03 887.26 L356.03 887.04 L357.03 886.82 L358.04 886.59 L359.04 886.36 L360.04 886.14 L361.04 885.91 L362.05 885.67 L363.05 885.44 L364.05 885.20 L365.05 884.95 L366.05 884.71 L367.06 884.46 L368.06 884.20 L369.06 883.94 L370.06 883.68 L371.07 883.41 L372.07 883.14 L373.07 882.86 L374.07 882.57 L375.07 882.28 L376.08 881.98 L377.08 881.67 L378.08 881.36 L379.08 881.04 L380.08 880.71 L381.09 880.38 L382.09 880.03 L383.09 879.68 L384.09 879.32 L385.10 878.95 L386.10 878.57 L387.10 878.18 L388.10 877.78 L389.10 877.37 L390.11 876.95 L391.11 876.52 L392.11 876.08 L393.11 875.63 L394.12 875.16 L395.12 874.69 L396.12 874.20 L397.12 873.70 L398.12 873.19 L399.13 872.66 L400.13 872.12 L401.13 871.57 L402.13 871.00 L403.14 870.42 L404.14 869.83 L405.14 869.23 L406.14 868.61 L407.14 867.99 L408.15 867.35 L409.15 866.70 L410.15 866.04 L411.15 865.37 L412.16 864.69 L413.16 863.99 L414.16 863.29 L415.16 862.58 L416.16 861.87 L417.17 861.14 L418.17 860.40 L419.17 859.66 L420.17 858.91 L421.18 858.15 L422.18 857.38 L423.18 856.61 L424.18 855.83 L425.18 855.05 L426.19 854.25 L427.19 853.46 L428.19 852.65 L429.19 851.85 L430.20 851.03 L431.20 850.22 L432.20 849.40 L433.20 848.57 L434.20 847.74 L435.21 846.91 L436.21 846.08 L437.21 845.24 L438.21 844.40 L439.22 843.56 L440.22 842.72 L441.22 841.87 L442.22 841.02 L443.22 840.17 L444.23 839.31 L445.23 838.45 L446.23 837.59 L447.23 836.72 L448.24 835.85 L449.24 834.98 L450.24 834.10 L451.24 833.21 L452.24 832.32 L453.25 831.43 L454.25 830.52 L455.25 829.62 L456.25 828.71 L457.25 827.79 L458.26 826.86 L459.26 825.93 L460.26 824.99 L461.26 824.05 L462.27 823.09 L463.27 822.13 L464.27 821.17 L465.27 820.19 L466.27 819.21 L467.28 818.21 L468.28 817.21 L469.28 816.20 L470.28 815.18 L471.29 814.15 L472.29 813.12 L473.29 812.07 L474.29 811.01 L475.29 809.94 L476.30 808.86 L477.30 807.78 L478.30 806.68 L479.30 805.57 L480.31 804.44 L481.31 803.31 L482.31 802.16 L483.31 801.01 L484.31 799.84 L485.32 798.65 L486.32 797.46 L487.32 796.25 L488.32 795.03 L489.33 793.80 L490.33 792.55 L491.33 791.29 L492.33 790.01 L493.33 788.72 L494.34 787.42 L495.34 786.10 L496.34 784.77 L497.34 783.42 L498.35 782.05 L499.35 780.68 L500.35 779.29 L501.35 777.89 L502.35 776.49 L503.36 775.08 L504.36 773.66 L505.36 772.24 L506.36 770.81 L507.37 769.39 L508.37 767.96 L509.37 766.54 L510.37 765.13 L511.37 763.72 L512.38 762.31 L513.38 760.92 L514.38 759.53 L515.38 758.16 L516.39 756.80 L517.39 755.46 L518.39 754.13 L519.39 752.82 L520.39 751.53 L521.40 750.26 L522.40 749.02 L523.40 747.80 L524.40 746.60 L525.41 745.43 L526.41 744.29 L527.41 743.17 L528.41 742.09 L529.41 741.04 L530.42 740.02 L531.42 739.03 L532.42 738.08 L533.42 737.16 L534.42 736.28 L535.43 735.44 L536.43 734.64 L537.43 733.88 L538.43 733.16 L539.44 732.48 L540.44 731.85 L541.44 731.26 L542.44 730.72 L543.44 730.22 L544.45 729.78 L545.45 729.38 L546.45 729.03 L547.45 728.74 L548.46 728.49 L549.46 728.28 L550.46 728.12 L551.46 727.99 L552.46 727.90 L553.47 727.83 L554.47 727.80 L555.47 727.79 L556.47 727.80 L557.48 727.83 L558.48 727.87 L559.48 727.93 L560.48 727.99 L561.48 728.06 L562.49 728.13 L563.49 728.20 L564.49 728.26 L565.49 728.32 L566.50 728.37 L567.50 728.40 L568.50 728.42" stroke="#0f6fc0" stroke-width="4.4" fill="none" stroke-linejoin="round" stroke-linecap="butt"/>
<path d="M114.50 914.21 L115.50 914.16 L116.50 914.12 L117.51 914.07 L118.51 914.03 L119.51 913.98 L120.51 913.94 L121.52 913.90 L122.52 913.86 L123.52 913.81 L124.52 913.77 L125.52 913.73 L126.53 913.69 L127.53 913.66 L128.53 913.62 L129.53 913.58 L130.54 913.54 L131.54 913.50 L132.54 913.47 L133.54 913.43 L134.54 913.40 L135.55 913.36 L136.55 913.33 L137.55 913.29 L138.55 913.26 L139.56 913.22 L140.56 913.19 L141.56 913.16 L142.56 913.13 L143.56 913.09 L144.57 913.06 L145.57 913.03 L146.57 913.00 L147.57 912.97 L148.58 912.94 L149.58 912.91 L150.58 912.88 L151.58 912.85 L152.58 912.82 L153.59 912.79 L154.59 912.76 L155.59 912.73 L156.59 912.70 L157.59 912.68 L158.60 912.65 L159.60 912.62 L160.60 912.59 L161.60 912.56 L162.61 912.54 L163.61 912.51 L164.61 912.48 L165.61 912.45 L166.61 912.43 L167.62 912.40 L168.62 912.37 L169.62 912.34 L170.62 912.32 L171.63 912.29 L172.63 912.26 L173.63 912.24 L174.63 912.21 L175.63 912.18 L176.64 912.15 L177.64 912.13 L178.64 912.10 L179.64 912.07 L180.65 912.04 L181.65 912.02 L182.65 911.99 L183.65 911.96 L184.65 911.93 L185.66 911.90 L186.66 911.87 L187.66 911.85 L188.66 911.82 L189.67 911.79 L190.67 911.76 L191.67 911.73 L192.67 911.70 L193.67 911.67 L194.68 911.64 L195.68 911.61 L196.68 911.58 L197.68 911.55 L198.69 911.51 L199.69 911.48 L200.69 911.45 L201.69 911.42 L202.69 911.38 L203.70 911.35 L204.70 911.32 L205.70 911.28 L206.70 911.25 L207.71 911.21 L208.71 911.18 L209.71 911.14 L210.71 911.11 L211.71 911.07 L212.72 911.03 L213.72 910.99 L214.72 910.95 L215.72 910.92 L216.73 910.88 L217.73 910.84 L218.73 910.80 L219.73 910.75 L220.73 910.71 L221.74 910.67 L222.74 910.63 L223.74 910.58 L224.74 910.54 L225.75 910.49 L226.75 910.45 L227.75 910.40 L228.75 910.36 L229.75 910.31 L230.76 910.26 L231.76 910.21 L232.76 910.16 L233.76 910.11 L234.76 910.06 L235.77 910.01 L236.77 909.95 L237.77 909.90 L238.77 909.85 L239.78 909.79 L240.78 909.73 L241.78 909.68 L242.78 909.62 L243.78 909.56 L244.79 909.50 L245.79 909.44 L246.79 909.38 L247.79 909.32 L248.80 909.25 L249.80 909.19 L250.80 909.12 L251.80 909.06 L252.80 908.99 L253.81 908.92 L254.81 908.85 L255.81 908.78 L256.81 908.71 L257.82 908.64 L258.82 908.57 L259.82 908.49 L260.82 908.42 L261.82 908.34 L262.83 908.26 L263.83 908.19 L264.83 908.11 L265.83 908.02 L266.84 907.94 L267.84 907.86 L268.84 907.77 L269.84 907.69 L270.84 907.60 L271.85 907.51 L272.85 907.43 L273.85 907.33 L274.85 907.24 L275.86 907.15 L276.86 907.06 L277.86 906.96 L278.86 906.86 L279.86 906.77 L280.87 906.67 L281.87 906.56 L282.87 906.46 L283.87 906.36 L284.88 906.25 L285.88 906.15 L286.88 906.04 L287.88 905.93 L288.88 905.82 L289.89 905.71 L290.89 905.60 L291.89 905.48 L292.89 905.36 L293.90 905.25 L294.90 905.13 L295.90 905.01 L296.90 904.88 L297.90 904.76 L298.91 904.64 L299.91 904.51 L300.91 904.38 L301.91 904.25 L302.92 904.12 L303.92 903.99 L304.92 903.85 L305.92 903.71 L306.92 903.58 L307.93 903.44 L308.93 903.30 L309.93 903.15 L310.93 903.01 L311.93 902.86 L312.94 902.71 L313.94 902.56 L314.94 902.41 L315.94 902.26 L316.95 902.10 L317.95 901.95 L318.95 901.79 L319.95 901.63 L320.95 901.46 L321.96 901.30 L322.96 901.13 L323.96 900.97 L324.96 900.80 L325.97 900.63 L326.97 900.45 L327.97 900.28 L328.97 900.10 L329.97 899.92 L330.98 899.74 L331.98 899.56 L332.98 899.37 L333.98 899.19 L334.99 899.00 L335.99 898.81 L336.99 898.61 L337.99 898.42 L338.99 898.22 L340.00 898.02 L341.00 897.82 L342.00 897.62 L343.00 897.41 L344.01 897.21 L345.01 897.00 L346.01 896.78 L347.01 896.57 L348.01 896.36 L349.02 896.14 L350.02 895.92 L351.02 895.70 L352.02 895.47 L353.03 895.24 L354.03 895.02 L355.03 894.78 L356.03 894.55 L357.03 894.32 L358.04 894.08 L359.04 893.84 L360.04 893.60 L361.04 893.35 L362.05 893.10 L363.05 892.85 L364.05 892.60 L365.05 892.34 L366.05 892.08 L367.06 891.82 L368.06 891.55 L369.06 891.28 L370.06 891.01 L371.07 890.73 L372.07 890.45 L373.07 890.16 L374.07 889.87 L375.07 889.58 L376.08 889.28 L377.08 888.97 L378.08 888.66 L379.08 888.35 L380.08 888.03 L381.09 887.71 L382.09 887.38 L383.09 887.04 L384.09 886.70 L385.10 886.36 L386.10 886.01 L387.10 885.65 L388.10 885.29 L389.10 884.92 L390.11 884.54 L391.11 884.16 L392.11 883.77 L393.11 883.37 L394.12 882.97 L395.12 882.56 L396.12 882.14 L397.12 881.72 L398.12 881.29 L399.13 880.85 L400.13 880.41 L401.13 879.95 L402.13 879.49 L403.14 879.02 L404.14 878.54 L405.14 878.06 L406.14 877.56 L407.14 877.06 L408.15 876.55 L409.15 876.03 L410.15 875.50 L411.15 874.96 L412.16 874.41 L413.16 873.86 L414.16 873.29 L415.16 872.72 L416.16 872.13 L417.17 871.54 L418.17 870.93 L419.17 870.32 L420.17 869.69 L421.18 869.06 L422.18 868.41 L423.18 867.76 L424.18 867.09 L425.18 866.41 L426.19 865.73 L427.19 865.03 L428.19 864.32 L429.19 863.59 L430.20 862.86 L431.20 862.12 L432.20 861.36 L433.20 860.59 L434.20 859.81 L435.21 859.02 L436.21 858.22 L437.21 857.41 L438.21 856.58 L439.22 855.75 L440.22 854.91 L441.22 854.06 L442.22 853.20 L443.22 852.34 L444.23 851.46 L445.23 850.58 L446.23 849.69 L447.23 848.79 L448.24 847.89 L449.24 846.98 L450.24 846.06 L451.24 845.14 L452.24 844.21 L453.25 843.28 L454.25 842.35 L455.25 841.41 L456.25 840.47 L457.25 839.52 L458.26 838.57 L459.26 837.62 L460.26 836.67 L461.26 835.71 L462.27 834.75 L463.27 833.79 L464.27 832.83 L465.27 831.87 L466.27 830.91 L467.28 829.95 L468.28 828.99 L469.28 828.03 L470.28 827.07 L471.29 826.11 L472.29 825.14 L473.29 824.17 L474.29 823.19 L475.29 822.21 L476.30 821.23 L477.30 820.23 L478.30 819.23 L479.30 818.23 L480.31 817.21 L481.31 816.18 L482.31 815.15 L483.31 814.10 L484.31 813.04 L485.32 811.97 L486.32 810.88 L487.32 809.78 L488.32 808.67 L489.33 807.54 L490.33 806.40 L491.33 805.23 L492.33 804.05 L493.33 802.85 L494.34 801.64 L495.34 800.40 L496.34 799.14 L497.34 797.86 L498.35 796.56 L499.35 795.24 L500.35 793.91 L501.35 792.56 L502.35 791.20 L503.36 789.82 L504.36 788.44 L505.36 787.06 L506.36 785.67 L507.37 784.28 L508.37 782.89 L509.37 781.50 L510.37 780.12 L511.37 778.74 L512.38 777.38 L513.38 776.02 L514.38 774.68 L515.38 773.36 L516.39 772.05 L517.39 770.77 L518.39 769.50 L519.39 768.26 L520.39 767.05 L521.40 765.86 L522.40 764.71 L523.40 763.59 L524.40 762.50 L525.41 761.44 L526.41 760.42 L527.41 759.43 L528.41 758.47 L529.41 757.55 L530.42 756.66 L531.42 755.81 L532.42 754.99 L533.42 754.21 L534.42 753.47 L535.43 752.76 L536.43 752.09 L537.43 751.45 L538.43 750.85 L539.44 750.30 L540.44 749.77 L541.44 749.29 L542.44 748.85 L543.44 748.44 L544.45 748.08 L545.45 747.75 L546.45 747.47 L547.45 747.22 L548.46 747.01 L549.46 746.84 L550.46 746.70 L551.46 746.59 L552.46 746.50 L553.47 746.45 L554.47 746.41 L555.47 746.40 L556.47 746.40 L557.48 746.42 L558.48 746.45 L559.48 746.50 L560.48 746.55 L561.48 746.61 L562.49 746.68 L563.49 746.74 L564.49 746.81 L565.49 746.87 L566.50 746.93 L567.50 746.98 L568.50 747.02" stroke="#c0504d" stroke-width="4.4" fill="none" stroke-linejoin="round" stroke-linecap="butt"/>
<path d="M113.50 919.50 L353.00 919.50 L353.83 918.48 L354.67 917.46 L355.50 916.45 L356.32 915.43 L357.13 914.41 L357.94 913.39 L358.74 912.37 L359.53 911.36 L360.32 910.34 L361.09 909.32 L361.86 908.30 L362.63 907.28 L363.38 906.26 L364.13 905.25 L364.88 904.23 L365.61 903.21 L366.34 902.19 L367.06 901.17 L367.78 900.16 L368.49 899.14 L369.19 898.12 L369.88 897.10 L370.57 896.08 L371.25 895.07 L371.93 894.05 L372.60 893.03 L373.26 892.01 L373.91 890.99 L374.56 889.98 L375.21 888.96 L375.84 887.94 L376.47 886.92 L377.10 885.90 L377.71 884.89 L378.32 883.87 L378.93 882.85 L379.53 881.83 L380.12 880.81 L380.71 879.79 L381.29 878.78 L381.86 877.76 L382.43 876.74 L382.99 875.72 L383.55 874.70 L384.10 873.69 L384.64 872.67 L385.18 871.65 L385.72 870.63 L386.24 869.61 L386.76 868.60 L387.28 867.58 L387.79 866.56 L388.30 865.54 L388.80 864.52 L389.29 863.51 L389.78 862.49 L390.26 861.47 L390.74 860.45 L391.21 859.43 L391.68 858.41 L392.14 857.40 L392.59 856.38 L393.04 855.36 L393.49 854.34 L393.93 853.32 L394.36 852.31 L394.79 851.29 L395.22 850.27 L395.64 849.25 L396.05 848.23 L396.46 847.22 L396.87 846.20 L397.27 845.18 L397.66 844.16 L398.05 843.14 L398.44 842.13 L398.82 841.11 L399.20 840.09 L399.57 839.07 L399.94 838.05 L400.30 837.04 L400.65 836.02 L401.01 835.00 L401.36 833.98 L401.70 832.96 L402.04 831.94 L402.38 830.93 L402.71 829.91 L403.03 828.89 L403.36 827.87 L403.67 826.85 L403.99 825.84 L404.30 824.82 L404.60 823.80 L404.55 823.80 L405.35 822.79 L406.15 821.79 L406.95 820.78 L407.74 819.78 L408.52 818.77 L409.30 817.76 L410.07 816.76 L410.84 815.75 L411.60 814.75 L412.35 813.74 L413.10 812.73 L413.85 811.73 L414.59 810.72 L415.32 809.72 L416.05 808.71 L416.77 807.70 L417.49 806.70 L418.20 805.69 L418.91 804.69 L419.61 803.68 L420.30 802.67 L421.00 801.67 L421.68 800.66 L422.37 799.65 L423.04 798.65 L423.71 797.64 L424.38 796.64 L425.04 795.63 L425.70 794.62 L426.35 793.62 L427.00 792.61 L427.65 791.61 L428.29 790.60 L428.92 789.59 L429.55 788.59 L430.18 787.58 L430.80 786.58 L431.41 785.57 L432.03 784.56 L432.63 783.56 L433.24 782.55 L433.84 781.55 L434.43 780.54 L435.02 779.53 L435.61 778.53 L436.19 777.52 L436.77 776.52 L437.35 775.51 L437.92 774.50 L438.49 773.50 L439.05 772.49 L439.61 771.49 L440.17 770.48 L440.72 769.47 L441.27 768.47 L441.81 767.46 L442.35 766.46 L442.89 765.45 L443.43 764.44 L443.96 763.44 L444.48 762.43 L445.01 761.42 L445.53 760.42 L446.04 759.41 L446.56 758.41 L447.07 757.40 L447.58 756.39 L448.08 755.39 L448.58 754.38 L449.08 753.38 L449.58 752.37 L450.07 751.36 L450.56 750.36 L451.04 749.35 L451.53 748.35 L452.01 747.34 L452.49 746.33 L452.96 745.33 L453.44 744.32 L453.91 743.32 L454.37 742.31 L454.84 741.30 L455.30 740.30 L455.76 739.29 L456.22 738.29 L456.67 737.28 L457.12 736.27 L457.58 735.27 L458.02 734.26 L458.47 733.26 L458.91 732.25 L459.35 731.24 L459.79 730.24 L460.23 729.23 L460.67 728.23 L461.10 727.22 L461.53 726.21 L461.96 725.21 L462.39 724.20 L462.81 723.19 L463.24 722.19 L463.66 721.18 L464.08 720.18 L464.50 719.17 L464.92 718.16 L465.33 717.16 L465.75 716.15 L466.16 715.15 L466.57 714.14 L466.98 713.13 L467.39 712.13 L467.80 711.12 L468.20 710.12 L468.61 709.11 L469.01 708.10 L469.41 707.10 L469.81 706.09 L470.21 705.09 L470.61 704.08 L471.01 703.07 L471.41 702.07 L471.80 701.06 L472.20 700.06 L472.59 699.05 L472.99 698.04 L473.38 697.04 L473.77 696.03 L474.17 695.03 L474.56 694.02 L474.95 693.01 L475.34 692.01 L475.73 691.00 L476.12 690.00 L476.50 688.99 L476.89 687.98 L477.28 686.98 L477.67 685.97 L478.05 684.96 L478.44 683.96 L478.82 682.95 L479.21 681.95 L479.59 680.94 L479.98 679.93 L480.36 678.93 L480.74 677.92 L481.13 676.92 L481.51 675.91 L481.89 674.90 L482.27 673.90 L482.65 672.89 L483.03 671.89 L483.41 670.88 L483.79 669.87 L484.16 668.87 L484.54 667.86 L484.92 666.86 L485.30 665.85 L485.67 664.84 L486.05 663.84 L486.42 662.83 L486.79 661.83 L487.17 660.82 L487.54 659.81 L487.91 658.81 L488.28 657.80 L488.65 656.80 L489.02 655.79 L489.39 654.78 L489.76 653.78 L490.13 652.77 L490.50 651.77 L490.87 650.76 L491.23 649.75 L491.60 648.75 L491.96 647.74 L492.33 646.74 L492.69 645.73 L493.05 644.72 L493.42 643.72 L493.78 642.71 L494.14 641.70 L494.50 640.70 L494.86 639.69 L495.22 638.69 L495.58 637.68 L495.94 636.67 L496.29 635.67 L496.65 634.66 L497.00 633.66 L497.36 632.65 L497.71 631.64 L498.07 630.64 L498.42 629.63 L498.77 628.63 L499.12 627.62 L499.47 626.61 L499.82 625.61 L500.17 624.60 L500.52 623.60 L500.87 622.59 L501.22 621.58 L501.56 620.58 L501.91 619.57 L502.25 618.57 L502.60 617.56 L502.94 616.55 L503.28 615.55 L503.63 614.54 L503.97 613.54 L504.31 612.53 L504.65 611.52 L504.98 610.52 L505.32 609.51 L505.66 608.51 L506.00 607.50 L506.33 606.49 L506.67 605.49 L507.00 604.48 L507.33 603.47 L507.66 602.47 L508.00 601.46 L508.33 600.46 L508.66 599.45 L508.98 598.44 L509.31 597.44 L509.64 596.43 L509.97 595.43 L510.29 594.42 L510.62 593.41 L510.94 592.41 L511.26 591.40 L511.59 590.40 L511.91 589.39 L512.23 588.38 L512.55 587.38 L512.87 586.37 L513.18 585.37 L513.50 584.36 L513.82 583.35 L514.13 582.35 L514.45 581.34 L514.76 580.34 L515.07 579.33 L515.38 578.32 L515.69 577.32 L516.00 576.31 L516.31 575.31 L516.62 574.30 L516.93 573.29 L517.23 572.29 L517.54 571.28 L517.85 570.28 L518.15 569.27 L518.46 568.26 L518.77 567.26 L519.07 566.25 L519.38 565.24 L519.69 564.24 L520.00 563.23 L520.32 562.23 L520.63 561.22 L520.95 560.21 L521.27 559.21 L521.59 558.20 L521.92 557.20 L522.25 556.19 L522.58 555.18 L522.92 554.18 L523.25 553.17 L523.60 552.17 L523.95 551.16 L524.30 550.15 L524.65 549.15 L525.02 548.14 L525.38 547.14 L525.76 546.13 L526.13 545.12 L526.52 544.12 L526.91 543.11 L527.30 542.11 L527.70 541.10 L528.11 540.09 L528.53 539.09 L528.95 538.08 L529.38 537.08 L529.82 536.07 L530.27 535.06 L530.72 534.06 L531.19 533.05 L531.66 532.05 L532.14 531.04 L532.63 530.03 L533.13 529.03 L533.63 528.02 L534.15 527.01 L534.68 526.01 L535.22 525.00 L535.77 524.00 L536.32 522.99 L536.89 521.98 L537.48 520.98 L538.07 519.97 L538.67 518.97 L539.29 517.96 L539.91 516.95 L540.55 515.95 L541.22 514.94 L541.97 513.94 L542.92 512.93 L544.16 511.92 L545.79 510.92 L547.90 509.91 L551.53 508.91 L568.44 507.90" stroke="#00b050" stroke-width="4.4" fill="none" stroke-linejoin="round" stroke-linecap="butt"/>
<path d="M281.0 644.4H258.0" stroke="#808080" stroke-width="1.75" fill="none"/><path d="M255.20 644.40 Q259.00 642.10 264.20 636.50 L265.90 637.70 Q262.40 641.60 260.60 644.40 Q262.40 647.20 265.90 651.10 L264.20 652.30 Q259.00 646.70 255.20 644.40Z" fill="#808080"/>
<path d="M500.5 661.8H525.1" stroke="#00b050" stroke-width="1.75" fill="none"/><path d="M527.90 661.80 Q524.10 659.50 518.90 653.90 L517.20 655.10 Q520.70 659.00 522.50 661.80 Q520.70 664.60 517.20 668.50 L518.90 669.70 Q524.10 664.10 527.90 661.80Z" fill="#00b050"/>
<path d="M485.4 739.3H510.0" stroke="#0f6fc0" stroke-width="1.75" fill="none"/><path d="M512.80 739.30 Q509.00 737.00 503.80 731.40 L502.10 732.60 Q505.60 736.50 507.40 739.30 Q505.60 742.10 502.10 746.00 L503.80 747.20 Q509.00 741.60 512.80 739.30Z" fill="#0f6fc0"/>
<path d="M508.9 810.3H533.7" stroke="#c0504d" stroke-width="1.75" fill="none"/><path d="M536.50 810.30 Q532.70 808.00 527.50 802.40 L525.80 803.60 Q529.30 807.50 531.10 810.30 Q529.30 813.10 525.80 817.00 L527.50 818.20 Q532.70 812.60 536.50 810.30Z" fill="#c0504d"/>
<path d="M149.9 887.9H125.3" stroke="#7030a0" stroke-width="1.75" fill="none"/><path d="M122.50 887.90 Q126.30 885.60 131.50 880.00 L133.20 881.20 Q129.70 885.10 127.90 887.90 Q129.70 890.70 133.20 894.60 L131.50 895.80 Q126.30 890.20 122.50 887.90Z" fill="#7030a0"/>
<text transform="translate(88,450.2) scale(1,1.08)" font-size="28.6" text-anchor="end">0</text>
<text transform="translate(88,343.1) scale(1,1.08)" font-size="28.6" text-anchor="end">0.4</text>
<text transform="translate(88,236) scale(1,1.08)" font-size="28.6" text-anchor="end">0.8</text>
<text transform="translate(88,128.9) scale(1,1.08)" font-size="28.6" text-anchor="end">1.2</text>
<text transform="translate(88,21.8) scale(1,1.08)" font-size="28.6" text-anchor="end">1.6</text>
<text transform="translate(589.9,450.2) scale(1,1.08)" font-size="28.6">0</text>
<text transform="translate(589.9,378.8) scale(1,1.08)" font-size="28.6">20</text>
<text transform="translate(589.9,307.4) scale(1,1.08)" font-size="28.6">40</text>
<text transform="translate(589.9,236) scale(1,1.08)" font-size="28.6">60</text>
<text transform="translate(589.9,164.6) scale(1,1.08)" font-size="28.6">80</text>
<text transform="translate(589.9,93.2) scale(1,1.08)" font-size="28.6">100</text>
<text transform="translate(589.9,21.8) scale(1,1.08)" font-size="28.6">120</text>
<text transform="translate(88.7,929.5) scale(1,1.08)" font-size="28.6" text-anchor="end">0</text>
<text transform="translate(88.7,845.7) scale(1,1.08)" font-size="28.6" text-anchor="end">0.4</text>
<text transform="translate(88.7,761.9) scale(1,1.08)" font-size="28.6" text-anchor="end">0.8</text>
<text transform="translate(88.7,678.1) scale(1,1.08)" font-size="28.6" text-anchor="end">1.2</text>
<text transform="translate(88.7,594.3) scale(1,1.08)" font-size="28.6" text-anchor="end">1.6</text>
<text transform="translate(88.7,510.5) scale(1,1.08)" font-size="28.6" text-anchor="end">2</text>
<text transform="translate(592.5,929.5) scale(1,1.08)" font-size="28.6">0</text>
<text transform="translate(592.5,873.63) scale(1,1.08)" font-size="28.6">20</text>
<text transform="translate(592.5,817.77) scale(1,1.08)" font-size="28.6">40</text>
<text transform="translate(592.5,761.9) scale(1,1.08)" font-size="28.6">60</text>
<text transform="translate(592.5,706.03) scale(1,1.08)" font-size="28.6">80</text>
<text transform="translate(592.5,650.17) scale(1,1.08)" font-size="28.6">100</text>
<text transform="translate(592.5,594.3) scale(1,1.08)" font-size="28.6">120</text>
<text transform="translate(592.5,538.43) scale(1,1.08)" font-size="28.6">140</text>
<text transform="translate(114.2,963.8) scale(1,1.08)" font-size="28.6" text-anchor="middle">1</text>
<text transform="translate(340.6,963.8) scale(1,1.08)" font-size="28.6" text-anchor="middle">10</text>
<text transform="translate(567,963.8) scale(1,1.08)" font-size="28.6" text-anchor="middle">100</text>
<text transform="translate(340.5,1007.2)" font-size="29.6" text-anchor="middle">time (d)</text>
<text transform="translate(31.1,226.2) rotate(-90)" font-size="29.6" text-anchor="middle">concentration (mmol<tspan dy="-2.4">·</tspan><tspan dy="2.4">L</tspan><tspan dy="-10" font-size="20">-1</tspan><tspan dy="10">)</tspan></text>
<text transform="translate(676.9,226.2) rotate(-90)" font-size="29.6" text-anchor="middle">concentration (mmol<tspan dy="-2.4">·</tspan><tspan dy="2.4">L</tspan><tspan dy="-10" font-size="20">-1</tspan><tspan dy="10">)</tspan></text>
<text transform="translate(31.1,707.3) rotate(-90)" font-size="29.6" text-anchor="middle">concentration (mmol<tspan dy="-2.4">·</tspan><tspan dy="2.4">L</tspan><tspan dy="-10" font-size="20">-1</tspan><tspan dy="10">)</tspan></text>
<text transform="translate(676.9,708.7) rotate(-90)" font-size="29.6" text-anchor="middle">concentration (mmol<tspan dy="-2.4">·</tspan><tspan dy="2.4">L</tspan><tspan dy="-10" font-size="20">-1</tspan><tspan dy="10">)</tspan></text>
<text transform="translate(138.2,58.6) scale(1,1.06)" font-size="33" font-weight="bold">a</text>
<text transform="translate(138.6,546.2) scale(1,1.04)" font-size="34.5" font-weight="bold">b</text>
<rect x="1.3" y="1054.3" width="664.5" height="140.9" fill="none" stroke="#000" stroke-width="2.6"/>
<path d="M20.5 1084H85.3" stroke="#7030a0" stroke-width="4.1"/>
<text transform="translate(108.6,1093.3)" font-size="29.2">SiAlCa</text>
<path d="M20.5 1125H85.3" stroke="#808080" stroke-width="4.1"/>
<text transform="translate(108.6,1134.2)" font-size="29.2">SiZrNa</text>
<path d="M20.5 1166H85.3" stroke="#00b050" stroke-width="4.1"/>
<text transform="translate(108.6,1176.3)" font-size="29.2">SiZr<tspan font-size="19.5" dy="10">0.1</tspan><tspan dy="-10">Na</tspan><tspan font-size="19.5" dy="10">0.2</tspan></text>
<path d="M315.9 1084H380.5" stroke="#c0504d" stroke-width="4.1"/>
<text transform="translate(403.6,1093.3)" font-size="29.2">CSH0.8</text>
<path d="M315.9 1125H380.5" stroke="#0f6fc0" stroke-width="4.1"/>
<text transform="translate(403.6,1134.2)" font-size="29.2">zeolite NaP2</text>
<path d="M315.9 1166H380.5" stroke="#05b0ee" stroke-width="4.1"/>
<text transform="translate(403.6,1176.3)" font-size="29.2">zeolite nuclei <tspan font-size="27" dy="2.2" dx="2">×</tspan><tspan dy="-2.2" dx="0.8"> 10</tspan></text>
</svg>
</body></html>
